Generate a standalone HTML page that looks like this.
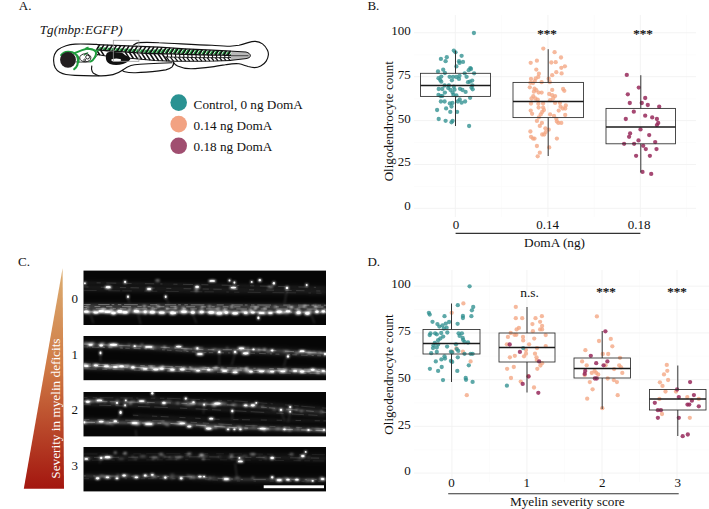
<!DOCTYPE html>
<html lang="en"><head><meta charset="utf-8"><title>Figure</title>
<style>html,body{margin:0;padding:0;background:#fff}svg{display:block}text{font-family:"Liberation Serif", "DejaVu Serif", serif;fill:#111}</style>
</head><body>
<svg width="709" height="509" viewBox="0 0 709 509">
<defs>
<linearGradient id="tri" x1="0" y1="0" x2="0" y2="1"><stop offset="0" stop-color="#dcae72"/><stop offset="0.45" stop-color="#cf7a45"/><stop offset="1" stop-color="#a3160f"/></linearGradient>
<filter id="b1" x="-20%" y="-50%" width="140%" height="200%"><feGaussianBlur stdDeviation="0.95"/></filter>
<filter id="b2" x="-20%" y="-50%" width="140%" height="200%"><feGaussianBlur stdDeviation="1.0"/></filter>
<filter id="b0" x="-20%" y="-50%" width="140%" height="200%"><feGaussianBlur stdDeviation="0.45"/></filter>
<filter id="b3" x="-5%" y="-300%" width="110%" height="700%"><feGaussianBlur stdDeviation="2.2"/></filter>
</defs>
<rect width="709" height="509" fill="#fff"/>
<text x="18.8" y="9.6" font-size="13" text-anchor="start" >A.</text>
<text x="367.4" y="9.6" font-size="13" text-anchor="start" >B.</text>
<text x="18.0" y="265.7" font-size="13" text-anchor="start" >C.</text>
<text x="367.4" y="265.7" font-size="13" text-anchor="start" >D.</text>
<text x="39.8" y="34.3" font-size="13.1" text-anchor="start" font-style="italic">Tg(mbp:EGFP)</text>
<g fill="none" stroke="#111" stroke-width="1.15" stroke-linecap="round" stroke-linejoin="round">
<path d="M97,44.4 C93,44.2 90,44.1 88.6,44.1 C84,44 79,43.9 75.1,44.1 C71.5,44.3 68.5,44.9 66,45.7 C62.5,46.8 59.8,48.1 57.9,49.7 C55,52.2 53.5,56 53.6,60.6 C53.7,63.5 54.2,66 55.2,67.8 C56.3,69.8 57.8,71.3 59.7,72.3 C61.7,73.4 63.7,74.1 66,74.5 C69,75 72,75.3 75,75.4 C81,75.7 87,75.8 93,75.8 C98,75.8 103,75.8 106,75.6 C109,75.4 111,75.1 113,74.6 C116.5,73.7 119.5,72.3 122,70.5 C125,68.4 128,66.5 131,65.5 C133.5,64.7 137,64.4 140,64.2 C146,63.8 153,63.5 159,63.3 C164,63.1 169,62.9 172,62.8"/>
<path d="M122.3,70.4 C123,71.2 124,71.6 124.8,71.8 C128,72.6 132,72.8 135.6,72.7 C143,72.5 151,71.8 159,70.9 C162,70.5 164.5,70.2 165.8,69.9 C168.5,69.2 170.8,68.2 172.1,66.9 C173.3,65.6 173.8,63.8 173.5,62.2"/>
<path d="M91.8,66 C91.3,68 91.5,70 92.2,71.4 C92.8,72.6 93.8,73.5 94.9,74.1 C96.2,74.9 97.6,75.4 99,75.7"/>
<path d="M133.6,45.0 C135,44 136.5,43 138.5,42.6 C145,42.2 152,42.3 159,42.8 C178,43.6 196,45 212,45.3 C218,45.7 224,46.2 230,46.2 C233,46.1 236,45.8 239,45.3 C242,44.6 245,43.6 248.1,42.6 C250.5,41.9 253,41.3 255.3,41.4 C258,41.6 260.5,42.5 262.5,43.9 C264.8,45.6 266.4,47.8 267.5,50.2 C268.2,51.7 268.5,53.2 268.4,54.8 C268.2,57 267.4,59.2 266.2,61.1 C264.9,63.2 263,64.8 260.7,66 C258.7,67 256.6,67.6 254.4,67.6 C252.2,67.5 250.1,67 248.1,66.5 C245,65.6 242,64.4 239,63.8 C234.5,63.2 230,64 225.5,64.7 C221,65.5 216.5,66.4 212,66.9 C205,67.8 198,68.6 191,68.7 C186,68.7 181,67.6 177.6,66 C175.6,65 174.2,63.6 173.5,62.2"/>
<path d="M75.8,61.9 C80,62.2 85,62.3 89.5,61.9 C91.5,61.4 93.6,59.8 94.9,57.9 C95.8,56.5 97,55.2 98.5,54.4" stroke-width="0.8"/>
</g>
<path d="M97.00,44.60 L140.00,46.30 L159.00,47.20 L185.00,48.80 L212.00,50.20 L231.00,51.10 L246.00,52.00 L249.00,53.20 L250.40,55.70 L249.00,57.60 L246.00,58.60 L231.00,60.40 L215.00,61.00 L200.00,61.20 L172.00,61.20 L155.00,60.60 L130.00,58.20 L106.00,56.00 L97.00,54.60 Z" fill="#fff" stroke="none"/>
<path d="M230.5,51.1 L246,52 C249,52.8 250.4,54.3 250.4,55.7 C250.4,57.2 249,58 246,58.6 L230.5,60.4 Z" fill="#b9b9b9"/>
<path d="M230.5,55.6 L248.5,55.7" stroke="#444" stroke-width="1.3" fill="none" stroke-opacity="0.8"/>
<path d="M97.00,46.94 L99.00,47.07 L101.00,47.21 L103.00,47.34 L105.00,47.47 L107.00,47.59 L109.00,47.70 L111.00,47.80 L113.00,47.90 L115.00,48.01 L117.00,48.11 L119.00,48.21 L121.00,48.32 L123.00,48.42 L125.00,48.52 L127.00,48.63 L129.00,48.73 L131.00,48.83 L133.00,48.94 L135.00,49.05 L137.00,49.15 L139.00,49.26 L141.00,49.37 L143.00,49.49 L145.00,49.60 L147.00,49.69 L149.00,49.77 L151.00,49.77 L153.00,49.67 L155.00,49.58 L157.00,49.46 L159.00,49.36 L161.00,49.28 L163.00,49.20 L165.00,49.13 L167.00,49.07 L169.00,49.01 L171.00,48.97 L173.00,48.93 L175.00,48.89 L177.00,49.00 L179.00,49.12 L181.00,49.24 L183.00,49.35 L185.00,49.47 L187.00,49.57 L189.00,49.67 L191.00,49.76 L193.00,49.86 L195.00,49.96 L197.00,50.06 L199.00,50.16 L201.00,50.25 L203.00,50.35 L205.00,50.45 L207.00,50.54 L209.00,50.64 L211.00,50.74 L213.00,50.83 L215.00,50.92 L217.00,51.00 L219.00,51.09 L221.00,51.17 L223.00,51.26 L225.00,51.35 L227.00,51.43 L229.00,51.52 L231.00,51.60 L231.00,54.78 L229.00,54.77 L227.00,54.75 L225.00,54.73 L223.00,54.71 L221.00,54.69 L219.00,54.67 L217.00,54.66 L215.00,54.64 L213.00,54.60 L211.00,54.56 L209.00,54.51 L207.00,54.47 L205.00,54.42 L203.00,54.38 L201.00,54.33 L199.00,54.28 L197.00,54.22 L195.00,54.17 L193.00,54.11 L191.00,54.05 L189.00,53.99 L187.00,53.94 L185.00,53.88 L183.00,53.81 L181.00,53.74 L179.00,53.68 L177.00,53.61 L175.00,53.54 L173.00,53.47 L171.00,53.39 L169.00,53.33 L167.00,53.30 L165.00,53.28 L163.00,53.26 L161.00,53.23 L159.00,53.21 L157.00,53.20 L155.00,53.20 L153.00,53.13 L151.00,53.06 L149.00,52.99 L147.00,52.92 L145.00,52.85 L143.00,52.71 L141.00,52.56 L139.00,52.42 L137.00,52.28 L135.00,52.14 L133.00,52.00 L131.00,51.87 L129.00,51.73 L127.00,51.60 L125.00,51.47 L123.00,51.33 L121.00,51.20 L119.00,51.07 L117.00,50.93 L115.00,50.80 L113.00,50.67 L111.00,50.53 L109.00,50.40 L107.00,50.27 L105.00,50.10 L103.00,49.90 L101.00,49.70 L99.00,49.50 L97.00,49.30 Z" fill="#1f9c3d"/>
<g fill="none" stroke-linecap="butt">
<path d="M97.95,49.80 L101.17,44.71 M102.05,50.16 L105.41,44.88 M106.15,50.57 L109.66,45.04 M110.25,50.89 L113.86,45.21 M114.35,51.16 L118.03,45.37 M118.45,51.43 L122.20,45.54 M122.55,51.71 L126.36,45.70 M126.65,51.98 L130.53,45.87 M130.75,52.25 L134.70,46.03 M134.85,52.53 L138.88,46.20 M138.95,52.81 L143.05,46.38 M143.05,53.10 L147.22,46.57 M147.15,53.38 L151.37,46.77 M151.25,53.52 L155.44,46.96 M155.35,53.66 L159.50,47.16 M159.45,53.71 L163.51,47.39" stroke="#fff" stroke-width="0.65"/>
<path d="M163.55,53.75 L167.49,47.63 M167.65,53.79 L171.46,47.88 M171.75,53.86 L175.45,48.12 M175.85,54.02 L179.49,48.37 M179.95,54.16 L183.52,48.62 M184.05,54.30 L187.55,48.86 M188.15,54.43 L191.59,49.07 M192.25,54.55 L195.63,49.28 M196.35,54.66 L199.67,49.49 M200.45,54.78 L203.71,49.69 M204.55,54.88 L207.74,49.90 M208.65,54.97 L211.76,50.11 M212.75,55.06 L215.79,50.31 M216.85,55.14 L219.81,50.50 M220.95,55.18 L223.82,50.69 M225.05,55.22 L227.82,50.88 M229.15,55.25 L231.82,51.07" stroke="#fff" stroke-width="0.95"/>
<path d="M96.50,49.80 L99.72,44.71 M100.60,50.16 L103.96,44.88 M104.70,50.57 L108.21,45.04 M108.80,50.89 L112.41,45.21 M112.90,51.16 L116.58,45.37 M117.00,51.43 L120.75,45.54 M121.10,51.71 L124.91,45.70 M125.20,51.98 L129.08,45.87 M129.30,52.25 L133.25,46.03 M133.40,52.53 L137.43,46.20 M137.50,52.81 L141.60,46.38 M141.60,53.10 L145.77,46.57 M145.70,53.38 L149.92,46.77 M149.80,53.52 L153.99,46.96 M153.90,53.66 L158.05,47.16 M158.00,53.71 L162.06,47.39 M162.10,53.75 L166.04,47.63 M166.20,53.79 L170.01,47.88 M170.30,53.86 L174.00,48.12 M174.40,54.02 L178.04,48.37 M178.50,54.16 L182.07,48.62 M182.60,54.30 L186.10,48.86 M186.70,54.43 L190.14,49.07 M190.80,54.55 L194.18,49.28 M194.90,54.66 L198.22,49.49 M199.00,54.78 L202.26,49.69 M203.10,54.88 L206.29,49.90 M207.20,54.97 L210.31,50.11 M211.30,55.06 L214.34,50.31 M215.40,55.14 L218.36,50.50 M219.50,55.18 L222.37,50.69 M223.60,55.22 L226.37,50.88 M227.70,55.25 L230.37,51.07" stroke="#111" stroke-width="1.55"/>
<path d="M96.50,49.80 L99.86,55.04 M100.60,50.16 L104.10,55.70 M125.20,51.98 L129.25,58.13 M129.30,52.25 L133.42,58.53 M133.40,52.53 L137.60,58.93 M137.50,52.81 L141.77,59.33 M141.60,53.10 L145.95,59.73 M145.70,53.38 L150.13,60.13 M149.80,53.52 L154.41,60.54 M153.90,53.66 L158.68,60.73 M158.00,53.71 L162.90,60.88 M162.10,53.75 L167.07,61.03" stroke="#111" stroke-width="1.55"/>
<path d="M167.20,53.79 L167.60,56.96 M171.30,53.86 L171.70,57.06 M175.40,54.02 L175.80,57.18 M179.50,54.16 L179.90,57.26 M183.60,54.30 L184.00,57.34 M187.70,54.43 L188.10,57.41 M191.80,54.55 L192.20,57.47 M195.90,54.66 L196.30,57.54 M200.00,54.78 L200.40,57.60 M204.10,54.88 L204.50,57.64 M208.20,54.97 L208.60,57.67 M212.30,55.06 L212.70,57.70 M216.40,55.14 L216.80,57.71 M220.50,55.18 L220.90,57.67 M224.60,55.22 L225.00,57.62 M228.70,55.25 L229.10,57.57" stroke="#111" stroke-width="1.15"/>
<path d="M166.20,56.96 L169.43,61.11 M170.30,57.06 L173.56,61.20 M174.40,57.18 L177.62,61.20 M178.50,57.26 L181.65,61.20 M182.60,57.34 L185.69,61.20 M186.70,57.41 L189.73,61.20 M190.80,57.47 L193.78,61.20 M194.90,57.54 L197.83,61.20 M199.00,57.60 L201.88,61.17 M203.10,57.64 L205.91,61.12 M207.20,57.67 L209.95,61.07 M211.30,57.70 L213.98,61.01 M215.40,57.71 L218.02,60.89 M219.50,57.67 L222.03,60.74 M223.60,57.62 L226.05,60.59 M227.70,57.57 L230.06,60.44" stroke="#111" stroke-width="1.25"/>
<path d="M97.00,44.60 L140.00,46.30 L159.00,47.20 L185.00,48.80 L212.00,50.20 L231.00,51.10" stroke="#111" stroke-width="1.3"/>
<path d="M97.00,49.80 L99.00,50.00 L101.00,50.20 L103.00,50.40 L105.00,50.60 L107.00,50.77 L109.00,50.90 L111.00,51.03 L113.00,51.17 L115.00,51.30 L117.00,51.43 L119.00,51.57 L121.00,51.70 L123.00,51.83 L125.00,51.97 L127.00,52.10 L129.00,52.23 L131.00,52.37 L133.00,52.50 L135.00,52.64 L137.00,52.78 L139.00,52.92 L141.00,53.06 L143.00,53.21 L145.00,53.35 L147.00,53.42 L149.00,53.49 L151.00,53.56 L153.00,53.63 L155.00,53.70 L157.00,53.70 L159.00,53.71 L161.00,53.73 L163.00,53.76 L165.00,53.78 L167.00,53.80 L169.00,53.83 L171.00,53.89 L173.00,53.97 L175.00,54.04 L177.00,54.11 L179.00,54.18 L181.00,54.24 L183.00,54.31 L185.00,54.38 L187.00,54.44 L189.00,54.49 L191.00,54.55 L193.00,54.61 L195.00,54.67 L197.00,54.72 L199.00,54.78 L201.00,54.83 L203.00,54.88 L205.00,54.92 L207.00,54.97 L209.00,55.01 L211.00,55.06 L213.00,55.10 L215.00,55.14 L217.00,55.16 L219.00,55.17 L221.00,55.19 L223.00,55.21 L225.00,55.23 L227.00,55.25 L229.00,55.27 L231.00,55.28" stroke="#111" stroke-width="1.3"/>
<path d="M165.00,56.94 L167.00,56.98 L169.00,57.03 L171.00,57.09 L173.00,57.15 L175.00,57.19 L177.00,57.23 L179.00,57.27 L181.00,57.30 L183.00,57.34 L185.00,57.38 L187.00,57.41 L189.00,57.44 L191.00,57.48 L193.00,57.51 L195.00,57.54 L197.00,57.57 L199.00,57.60 L201.00,57.63 L203.00,57.64 L205.00,57.65 L207.00,57.67 L209.00,57.68 L211.00,57.69 L213.00,57.71 L215.00,57.72 L217.00,57.69 L219.00,57.67 L221.00,57.65 L223.00,57.63 L225.00,57.60 L227.00,57.58 L229.00,57.56 L231.00,57.54" stroke="#111" stroke-width="0.85"/>
<path d="M97.00,54.60 L106.00,56.00 L130.00,58.20 L155.00,60.60 L172.00,61.20 L200.00,61.20 L215.00,61.00 L231.00,60.40" stroke="#111" stroke-width="1.05"/>
<path d="M230.5,51.1 L246,52 C249,52.8 250.4,54.3 250.4,55.7 C250.4,57.2 249,58 246,58.6 L230.5,60.4" stroke="#111" stroke-width="1.0"/>
</g>
<g fill="none" stroke="#1f9c3d" stroke-linecap="round" stroke-linejoin="round">
<path d="M61.2,55.2 C62.8,53.0 65.3,51.9 67.9,51.8 C70.6,51.7 73.2,52.3 75.1,53.6 C76.8,54.7 77.6,56.6 77.9,58.8 C78.2,61 78,63.1 77.3,65.1 C76.7,66.8 75.6,68.1 74.2,69.1" stroke-width="2.1"/>
<path d="M77.3,55.2 C78.8,57 79.3,59.6 78.8,62.4" stroke-width="1.3"/>
<path d="M75.1,52.9 C78.5,51.5 82,49.9 86.8,48.8 C90,48.6 93,49.2 94.9,50.6 C96.2,52 96.3,53.6 95.8,55.1 C95.2,56.9 94.2,58.4 93.1,59.7 C92.3,60.5 91.4,61.1 90.4,61.5" stroke-width="2.0"/>
<path d="M86.8,48.8 L91.5,49.6 M86,48.2 L88,47.3" stroke-width="1.3"/>
<path d="M84.2,55.2 C85.2,53.8 86.6,53.1 87.8,52.9" stroke-width="1.1"/>
<path d="M94.9,50.6 L98,50.5" stroke-width="1.8"/>
</g>
<circle cx="68" cy="59.8" r="7.9" fill="#231f20"/>
<ellipse cx="85.3" cy="57.8" rx="5.6" ry="4.0" fill="none" stroke="#111" stroke-width="0.9"/>
<circle cx="87.6" cy="57.1" r="1.9" fill="#fff" stroke="#111" stroke-width="0.9"/>
<circle cx="84.7" cy="60.0" r="1.0" fill="#fff" stroke="#111" stroke-width="0.8"/>
<path d="M105.8,57.0 C105.9,53.6 107.2,51.9 110.0,51.8 L121.5,52.4 C123.5,53.4 124.5,54.6 126,55.6 C128.5,56.9 130.6,58.4 130.3,59.3 C129.6,61.0 126.5,63.0 123,64.0 C118.5,65.2 113.5,65.2 110.0,64.0 C107.0,62.8 105.7,60 105.8,57.0 Z" fill="#111"/>
<ellipse cx="116.2" cy="60.0" rx="4.9" ry="1.55" fill="#fff"/>
<rect x="113.3" y="40.3" width="25.6" height="21.0" fill="none" stroke="#9a9a9a" stroke-width="0.8"/>
<circle cx="178.7" cy="102.6" r="8.3" fill="#2a9292"/>
<text x="193.6" y="108.6" font-size="13.2" text-anchor="start" >Control, 0 ng DomA</text>
<circle cx="178.7" cy="124.1" r="8.3" fill="#f2a282"/>
<text x="193.6" y="129.6" font-size="13.2" text-anchor="start" >0.14 ng DomA</text>
<circle cx="178.7" cy="145.8" r="8.3" fill="#a04e70"/>
<text x="193.6" y="150.7" font-size="13.2" text-anchor="start" >0.18 ng DomA</text>
<line x1="414" x2="696" y1="186.5" y2="186.5" stroke="#fafafa" stroke-width="0.7"/>
<line x1="414" x2="696" y1="142.6" y2="142.6" stroke="#fafafa" stroke-width="0.7"/>
<line x1="414" x2="696" y1="98.7" y2="98.7" stroke="#fafafa" stroke-width="0.7"/>
<line x1="414" x2="696" y1="54.8" y2="54.8" stroke="#fafafa" stroke-width="0.7"/>
<line x1="501.6" x2="501.6" y1="15" y2="217" stroke="#fafafa" stroke-width="0.7"/>
<line x1="594.2" x2="594.2" y1="15" y2="217" stroke="#fafafa" stroke-width="0.7"/>
<line x1="686.6" x2="686.6" y1="15" y2="217" stroke="#fafafa" stroke-width="0.7"/>
<line x1="414" x2="696" y1="208.4" y2="208.4" stroke="#f2f2f2" stroke-width="0.9"/>
<text x="410.8" y="210.3" font-size="13" text-anchor="end" >0</text>
<line x1="414" x2="696" y1="164.5" y2="164.5" stroke="#f2f2f2" stroke-width="0.9"/>
<text x="410.8" y="166.4" font-size="13" text-anchor="end" >25</text>
<line x1="414" x2="696" y1="120.6" y2="120.6" stroke="#f2f2f2" stroke-width="0.9"/>
<text x="410.8" y="122.5" font-size="13" text-anchor="end" >50</text>
<line x1="414" x2="696" y1="76.7" y2="76.7" stroke="#f2f2f2" stroke-width="0.9"/>
<text x="410.8" y="78.6" font-size="13" text-anchor="end" >75</text>
<line x1="414" x2="696" y1="32.8" y2="32.8" stroke="#f2f2f2" stroke-width="0.9"/>
<text x="410.8" y="34.7" font-size="13" text-anchor="end" >100</text>
<line x1="455.4" x2="455.4" y1="15" y2="217" stroke="#f2f2f2" stroke-width="0.9"/>
<line x1="547.9" x2="547.9" y1="15" y2="217" stroke="#f2f2f2" stroke-width="0.9"/>
<line x1="640.4" x2="640.4" y1="15" y2="217" stroke="#f2f2f2" stroke-width="0.9"/>
<text x="456.1" y="228.8" font-size="13" text-anchor="middle" >0</text>
<text x="547.6" y="228.8" font-size="13" text-anchor="middle" >0.14</text>
<text x="639.2" y="228.8" font-size="13" text-anchor="middle" >0.18</text>
<line x1="455.6" x2="640.4" y1="233.4" y2="233.4" stroke="#333" stroke-width="1.1"/>
<text x="554.6" y="247.0" font-size="13.3" text-anchor="middle" >DomA (ng)</text>
<text transform="translate(392.6,121.2) rotate(-90)" font-size="13.1" text-anchor="middle">Oligodendrocyte count</text>
<text x="547.1" y="37.6" font-size="13" text-anchor="middle" stroke="#111" stroke-width="0.25">***</text>
<text x="642.9" y="37.6" font-size="13" text-anchor="middle" stroke="#111" stroke-width="0.25">***</text>
<g fill="#2f8f8f" fill-opacity="0.78">
<circle cx="473.9" cy="33.0" r="2.15"/>
<circle cx="453.8" cy="50.6" r="2.15"/>
<circle cx="455.5" cy="52.3" r="2.15"/>
<circle cx="440.9" cy="58.9" r="2.15"/>
<circle cx="446.8" cy="57.2" r="2.15"/>
<circle cx="445.6" cy="61.2" r="2.15"/>
<circle cx="461.6" cy="55.8" r="2.15"/>
<circle cx="459.0" cy="61.2" r="2.15"/>
<circle cx="463.0" cy="61.9" r="2.15"/>
<circle cx="459.5" cy="62.9" r="2.15"/>
<circle cx="456.4" cy="66.4" r="2.15"/>
<circle cx="443.2" cy="69.7" r="2.15"/>
<circle cx="438.0" cy="71.4" r="2.15"/>
<circle cx="444.9" cy="73.0" r="2.15"/>
<circle cx="464.7" cy="73.3" r="2.15"/>
<circle cx="470.3" cy="68.1" r="2.15"/>
<circle cx="471.0" cy="69.0" r="2.15"/>
<circle cx="468.7" cy="70.2" r="2.15"/>
<circle cx="474.1" cy="73.3" r="2.15"/>
<circle cx="466.6" cy="76.8" r="2.15"/>
<circle cx="459.5" cy="75.8" r="2.15"/>
<circle cx="456.4" cy="77.0" r="2.15"/>
<circle cx="453.1" cy="76.8" r="2.15"/>
<circle cx="449.6" cy="76.8" r="2.15"/>
<circle cx="441.3" cy="76.6" r="2.15"/>
<circle cx="438.5" cy="78.2" r="2.15"/>
<circle cx="440.2" cy="80.1" r="2.15"/>
<circle cx="441.3" cy="81.7" r="2.15"/>
<circle cx="451.9" cy="80.3" r="2.15"/>
<circle cx="459.0" cy="78.9" r="2.15"/>
<circle cx="468.0" cy="82.2" r="2.15"/>
<circle cx="469.8" cy="81.7" r="2.15"/>
<circle cx="472.2" cy="80.6" r="2.15"/>
<circle cx="472.4" cy="85.3" r="2.15"/>
<circle cx="444.6" cy="85.5" r="2.15"/>
<circle cx="448.9" cy="85.5" r="2.15"/>
<circle cx="453.8" cy="86.7" r="2.15"/>
<circle cx="448.2" cy="88.1" r="2.15"/>
<circle cx="438.7" cy="89.0" r="2.15"/>
<circle cx="442.3" cy="89.0" r="2.15"/>
<circle cx="450.5" cy="90.0" r="2.15"/>
<circle cx="454.5" cy="89.7" r="2.15"/>
<circle cx="460.0" cy="88.8" r="2.15"/>
<circle cx="462.5" cy="90.0" r="2.15"/>
<circle cx="465.6" cy="91.9" r="2.15"/>
<circle cx="471.5" cy="87.6" r="2.15"/>
<circle cx="472.7" cy="89.3" r="2.15"/>
<circle cx="444.9" cy="92.6" r="2.15"/>
<circle cx="452.6" cy="92.6" r="2.15"/>
<circle cx="453.4" cy="94.9" r="2.15"/>
<circle cx="456.4" cy="95.4" r="2.15"/>
<circle cx="438.5" cy="94.9" r="2.15"/>
<circle cx="440.6" cy="96.1" r="2.15"/>
<circle cx="442.3" cy="95.9" r="2.15"/>
<circle cx="470.1" cy="97.8" r="2.15"/>
<circle cx="459.7" cy="99.4" r="2.15"/>
<circle cx="457.8" cy="101.5" r="2.15"/>
<circle cx="461.6" cy="102.7" r="2.15"/>
<circle cx="465.1" cy="101.5" r="2.15"/>
<circle cx="440.9" cy="101.5" r="2.15"/>
<circle cx="444.6" cy="101.5" r="2.15"/>
<circle cx="449.8" cy="103.4" r="2.15"/>
<circle cx="452.4" cy="102.9" r="2.15"/>
<circle cx="451.5" cy="106.5" r="2.15"/>
<circle cx="446.1" cy="108.4" r="2.15"/>
<circle cx="437.1" cy="110.0" r="2.15"/>
<circle cx="450.3" cy="111.9" r="2.15"/>
<circle cx="457.1" cy="111.9" r="2.15"/>
<circle cx="438.7" cy="119.0" r="2.15"/>
<circle cx="445.6" cy="120.8" r="2.15"/>
<circle cx="452.6" cy="120.8" r="2.15"/>
<circle cx="451.5" cy="122.3" r="2.15"/>
<circle cx="469.1" cy="126.0" r="2.15"/>
</g>
<g fill="#f4a582" fill-opacity="0.78">
<circle cx="543.3" cy="48.6" r="2.15"/>
<circle cx="554.6" cy="52.2" r="2.15"/>
<circle cx="561.0" cy="57.5" r="2.15"/>
<circle cx="536.9" cy="60.7" r="2.15"/>
<circle cx="530.7" cy="62.8" r="2.15"/>
<circle cx="551.3" cy="62.5" r="2.15"/>
<circle cx="555.7" cy="62.2" r="2.15"/>
<circle cx="564.9" cy="66.3" r="2.15"/>
<circle cx="561.3" cy="67.8" r="2.15"/>
<circle cx="536.3" cy="69.6" r="2.15"/>
<circle cx="556.3" cy="72.2" r="2.15"/>
<circle cx="561.6" cy="73.4" r="2.15"/>
<circle cx="538.9" cy="73.7" r="2.15"/>
<circle cx="552.2" cy="75.2" r="2.15"/>
<circle cx="531.0" cy="79.0" r="2.15"/>
<circle cx="535.7" cy="78.4" r="2.15"/>
<circle cx="538.3" cy="76.9" r="2.15"/>
<circle cx="548.7" cy="78.7" r="2.15"/>
<circle cx="534.8" cy="81.1" r="2.15"/>
<circle cx="530.4" cy="82.8" r="2.15"/>
<circle cx="533.0" cy="83.1" r="2.15"/>
<circle cx="541.6" cy="82.2" r="2.15"/>
<circle cx="549.8" cy="82.2" r="2.15"/>
<circle cx="529.8" cy="87.3" r="2.15"/>
<circle cx="534.5" cy="88.7" r="2.15"/>
<circle cx="536.3" cy="90.2" r="2.15"/>
<circle cx="552.2" cy="89.9" r="2.15"/>
<circle cx="563.1" cy="89.0" r="2.15"/>
<circle cx="564.3" cy="90.8" r="2.15"/>
<circle cx="533.9" cy="91.7" r="2.15"/>
<circle cx="538.6" cy="92.6" r="2.15"/>
<circle cx="541.6" cy="92.6" r="2.15"/>
<circle cx="549.2" cy="94.0" r="2.15"/>
<circle cx="552.2" cy="95.2" r="2.15"/>
<circle cx="555.1" cy="96.1" r="2.15"/>
<circle cx="533.3" cy="96.1" r="2.15"/>
<circle cx="531.5" cy="98.5" r="2.15"/>
<circle cx="535.4" cy="98.5" r="2.15"/>
<circle cx="537.7" cy="99.6" r="2.15"/>
<circle cx="553.1" cy="98.5" r="2.15"/>
<circle cx="550.1" cy="100.2" r="2.15"/>
<circle cx="531.0" cy="103.5" r="2.15"/>
<circle cx="538.3" cy="103.8" r="2.15"/>
<circle cx="543.1" cy="103.5" r="2.15"/>
<circle cx="555.1" cy="102.9" r="2.15"/>
<circle cx="559.9" cy="102.9" r="2.15"/>
<circle cx="565.8" cy="105.5" r="2.15"/>
<circle cx="560.5" cy="106.7" r="2.15"/>
<circle cx="562.8" cy="108.5" r="2.15"/>
<circle cx="565.2" cy="108.5" r="2.15"/>
<circle cx="538.6" cy="107.6" r="2.15"/>
<circle cx="543.1" cy="107.6" r="2.15"/>
<circle cx="543.9" cy="110.0" r="2.15"/>
<circle cx="530.7" cy="110.6" r="2.15"/>
<circle cx="558.7" cy="110.6" r="2.15"/>
<circle cx="532.1" cy="113.8" r="2.15"/>
<circle cx="542.2" cy="112.0" r="2.15"/>
<circle cx="540.7" cy="114.4" r="2.15"/>
<circle cx="565.2" cy="115.0" r="2.15"/>
<circle cx="550.1" cy="114.4" r="2.15"/>
<circle cx="554.0" cy="115.9" r="2.15"/>
<circle cx="538.9" cy="117.3" r="2.15"/>
<circle cx="536.9" cy="120.9" r="2.15"/>
<circle cx="556.3" cy="118.8" r="2.15"/>
<circle cx="556.9" cy="121.5" r="2.15"/>
<circle cx="558.4" cy="122.9" r="2.15"/>
<circle cx="561.3" cy="122.9" r="2.15"/>
<circle cx="541.9" cy="122.9" r="2.15"/>
<circle cx="539.8" cy="125.9" r="2.15"/>
<circle cx="545.4" cy="128.3" r="2.15"/>
<circle cx="548.7" cy="129.7" r="2.15"/>
<circle cx="530.4" cy="131.5" r="2.15"/>
<circle cx="545.7" cy="132.1" r="2.15"/>
<circle cx="542.2" cy="134.5" r="2.15"/>
<circle cx="544.2" cy="134.5" r="2.15"/>
<circle cx="531.0" cy="136.8" r="2.15"/>
<circle cx="533.0" cy="138.6" r="2.15"/>
<circle cx="534.5" cy="138.6" r="2.15"/>
<circle cx="556.9" cy="138.6" r="2.15"/>
<circle cx="536.9" cy="146.0" r="2.15"/>
<circle cx="549.2" cy="147.4" r="2.15"/>
<circle cx="539.8" cy="152.7" r="2.15"/>
<circle cx="537.7" cy="156.3" r="2.15"/>
</g>
<g fill="#96295a" fill-opacity="0.85">
<circle cx="626.8" cy="74.9" r="2.15"/>
<circle cx="638.8" cy="87.6" r="2.15"/>
<circle cx="627.8" cy="94.3" r="2.15"/>
<circle cx="645.2" cy="98.0" r="2.15"/>
<circle cx="629.8" cy="103.0" r="2.15"/>
<circle cx="641.8" cy="103.0" r="2.15"/>
<circle cx="647.8" cy="105.0" r="2.15"/>
<circle cx="659.2" cy="106.7" r="2.15"/>
<circle cx="633.8" cy="111.7" r="2.15"/>
<circle cx="645.2" cy="115.7" r="2.15"/>
<circle cx="652.2" cy="117.4" r="2.15"/>
<circle cx="625.8" cy="119.0" r="2.15"/>
<circle cx="656.9" cy="119.0" r="2.15"/>
<circle cx="658.2" cy="123.0" r="2.15"/>
<circle cx="656.9" cy="125.1" r="2.15"/>
<circle cx="640.5" cy="129.4" r="2.15"/>
<circle cx="630.1" cy="133.4" r="2.15"/>
<circle cx="649.2" cy="135.1" r="2.15"/>
<circle cx="629.1" cy="136.8" r="2.15"/>
<circle cx="638.5" cy="140.4" r="2.15"/>
<circle cx="655.2" cy="142.1" r="2.15"/>
<circle cx="624.1" cy="143.8" r="2.15"/>
<circle cx="634.1" cy="143.8" r="2.15"/>
<circle cx="643.2" cy="145.8" r="2.15"/>
<circle cx="645.8" cy="149.1" r="2.15"/>
<circle cx="656.5" cy="149.1" r="2.15"/>
<circle cx="636.1" cy="155.8" r="2.15"/>
<circle cx="649.9" cy="155.8" r="2.15"/>
<circle cx="642.5" cy="171.9" r="2.15"/>
<circle cx="651.2" cy="173.9" r="2.15"/>
</g>
<line x1="455.5" y1="50.6" x2="455.5" y2="73.3" stroke="#333" stroke-width="1"/>
<line x1="455.5" y1="96.4" x2="455.5" y2="126.0" stroke="#333" stroke-width="1"/>
<rect x="420.5" y="73.3" width="70.0" height="23.1" fill="none" stroke="#2b2b2b" stroke-width="0.85"/>
<line x1="420.5" y1="85.4" x2="490.5" y2="85.4" stroke="#1a1a1a" stroke-width="1.5"/>
<line x1="548.2" y1="49.2" x2="548.2" y2="82.4" stroke="#333" stroke-width="1"/>
<line x1="548.2" y1="117.6" x2="548.2" y2="156.0" stroke="#333" stroke-width="1"/>
<rect x="513.0" y="82.4" width="70.5" height="35.2" fill="none" stroke="#2b2b2b" stroke-width="0.85"/>
<line x1="513.0" y1="101.6" x2="583.5" y2="101.6" stroke="#1a1a1a" stroke-width="1.5"/>
<line x1="640.8" y1="75.2" x2="640.8" y2="108.4" stroke="#333" stroke-width="1"/>
<line x1="640.8" y1="143.8" x2="640.8" y2="172.5" stroke="#333" stroke-width="1"/>
<rect x="606.0" y="108.4" width="69.5" height="35.4" fill="none" stroke="#2b2b2b" stroke-width="0.85"/>
<line x1="606.0" y1="127.0" x2="675.5" y2="127.0" stroke="#1a1a1a" stroke-width="1.5"/>
<line x1="414" x2="709" y1="449.7" y2="449.7" stroke="#fafafa" stroke-width="0.7"/>
<line x1="414" x2="709" y1="403.0" y2="403.0" stroke="#fafafa" stroke-width="0.7"/>
<line x1="414" x2="709" y1="356.3" y2="356.3" stroke="#fafafa" stroke-width="0.7"/>
<line x1="414" x2="709" y1="309.6" y2="309.6" stroke="#fafafa" stroke-width="0.7"/>
<line x1="489.4" x2="489.4" y1="270" y2="482" stroke="#fafafa" stroke-width="0.7"/>
<line x1="564.4" x2="564.4" y1="270" y2="482" stroke="#fafafa" stroke-width="0.7"/>
<line x1="639.5" x2="639.5" y1="270" y2="482" stroke="#fafafa" stroke-width="0.7"/>
<line x1="414" x2="709" y1="473.1" y2="473.1" stroke="#f2f2f2" stroke-width="0.9"/>
<text x="410.8" y="475.3" font-size="13" text-anchor="end" >0</text>
<line x1="414" x2="709" y1="426.4" y2="426.4" stroke="#f2f2f2" stroke-width="0.9"/>
<text x="410.8" y="428.6" font-size="13" text-anchor="end" >25</text>
<line x1="414" x2="709" y1="379.7" y2="379.7" stroke="#f2f2f2" stroke-width="0.9"/>
<text x="410.8" y="381.9" font-size="13" text-anchor="end" >50</text>
<line x1="414" x2="709" y1="332.9" y2="332.9" stroke="#f2f2f2" stroke-width="0.9"/>
<text x="410.8" y="335.1" font-size="13" text-anchor="end" >75</text>
<line x1="414" x2="709" y1="286.2" y2="286.2" stroke="#f2f2f2" stroke-width="0.9"/>
<text x="410.8" y="288.4" font-size="13" text-anchor="end" >100</text>
<line x1="451.9" x2="451.9" y1="270" y2="482" stroke="#f2f2f2" stroke-width="0.9"/>
<line x1="526.9" x2="526.9" y1="270" y2="482" stroke="#f2f2f2" stroke-width="0.9"/>
<line x1="602.0" x2="602.0" y1="270" y2="482" stroke="#f2f2f2" stroke-width="0.9"/>
<line x1="677.0" x2="677.0" y1="270" y2="482" stroke="#f2f2f2" stroke-width="0.9"/>
<text x="451.6" y="486.9" font-size="13" text-anchor="middle" >0</text>
<text x="526.8" y="486.9" font-size="13" text-anchor="middle" >1</text>
<text x="602.3" y="486.9" font-size="13" text-anchor="middle" >2</text>
<text x="677.7" y="486.9" font-size="13" text-anchor="middle" >3</text>
<line x1="448.2" x2="678.7" y1="493.7" y2="493.7" stroke="#333" stroke-width="1.1"/>
<text x="567.3" y="506.2" font-size="13.25" text-anchor="middle" >Myelin severity score</text>
<text transform="translate(392.6,374.5) rotate(-90)" font-size="13.1" text-anchor="middle">Oligodendrocyte count</text>
<text x="529.6" y="297.3" font-size="13.5" text-anchor="middle" >n.s.</text>
<text x="606.1" y="296.3" font-size="13" text-anchor="middle" stroke="#111" stroke-width="0.25">***</text>
<text x="676.9" y="296.3" font-size="13" text-anchor="middle" stroke="#111" stroke-width="0.25">***</text>
<g fill="#f4a582" fill-opacity="0.78">
<circle cx="463.4" cy="303.4" r="2.15"/>
<circle cx="451.7" cy="312.8" r="2.15"/>
<circle cx="456.3" cy="348.4" r="2.15"/>
<circle cx="462.9" cy="351.7" r="2.15"/>
<circle cx="452.2" cy="351.7" r="2.15"/>
<circle cx="470.6" cy="361.4" r="2.15"/>
<circle cx="466.8" cy="395.2" r="2.15"/>
</g>
<g fill="#2f8f8f" fill-opacity="0.78">
<circle cx="469.6" cy="286.3" r="2.15"/>
<circle cx="457.8" cy="305.2" r="2.15"/>
<circle cx="473.2" cy="307.0" r="2.15"/>
<circle cx="471.9" cy="310.3" r="2.15"/>
<circle cx="428.9" cy="312.8" r="2.15"/>
<circle cx="429.7" cy="314.6" r="2.15"/>
<circle cx="444.5" cy="316.2" r="2.15"/>
<circle cx="462.9" cy="315.9" r="2.15"/>
<circle cx="471.4" cy="316.2" r="2.15"/>
<circle cx="462.9" cy="318.0" r="2.15"/>
<circle cx="432.5" cy="321.8" r="2.15"/>
<circle cx="449.1" cy="322.0" r="2.15"/>
<circle cx="445.8" cy="323.6" r="2.15"/>
<circle cx="457.6" cy="323.8" r="2.15"/>
<circle cx="437.4" cy="324.1" r="2.15"/>
<circle cx="442.5" cy="325.4" r="2.15"/>
<circle cx="439.4" cy="326.6" r="2.15"/>
<circle cx="446.6" cy="327.7" r="2.15"/>
<circle cx="443.8" cy="328.7" r="2.15"/>
<circle cx="430.5" cy="333.3" r="2.15"/>
<circle cx="429.7" cy="335.1" r="2.15"/>
<circle cx="435.1" cy="333.3" r="2.15"/>
<circle cx="436.8" cy="334.3" r="2.15"/>
<circle cx="441.2" cy="333.0" r="2.15"/>
<circle cx="447.3" cy="332.5" r="2.15"/>
<circle cx="458.6" cy="333.3" r="2.15"/>
<circle cx="461.9" cy="333.3" r="2.15"/>
<circle cx="459.6" cy="335.9" r="2.15"/>
<circle cx="443.2" cy="336.6" r="2.15"/>
<circle cx="440.4" cy="338.4" r="2.15"/>
<circle cx="462.7" cy="337.9" r="2.15"/>
<circle cx="438.1" cy="340.2" r="2.15"/>
<circle cx="463.2" cy="339.9" r="2.15"/>
<circle cx="464.5" cy="342.0" r="2.15"/>
<circle cx="468.0" cy="342.5" r="2.15"/>
<circle cx="434.8" cy="343.0" r="2.15"/>
<circle cx="433.5" cy="345.3" r="2.15"/>
<circle cx="438.1" cy="344.5" r="2.15"/>
<circle cx="456.0" cy="344.3" r="2.15"/>
<circle cx="447.1" cy="346.6" r="2.15"/>
<circle cx="433.0" cy="348.1" r="2.15"/>
<circle cx="436.8" cy="347.6" r="2.15"/>
<circle cx="456.8" cy="349.1" r="2.15"/>
<circle cx="458.3" cy="350.9" r="2.15"/>
<circle cx="436.8" cy="352.0" r="2.15"/>
<circle cx="431.2" cy="353.2" r="2.15"/>
<circle cx="464.5" cy="353.8" r="2.15"/>
<circle cx="470.6" cy="353.8" r="2.15"/>
<circle cx="472.6" cy="353.8" r="2.15"/>
<circle cx="444.5" cy="356.3" r="2.15"/>
<circle cx="450.9" cy="351.7" r="2.15"/>
<circle cx="452.2" cy="352.5" r="2.15"/>
<circle cx="457.8" cy="357.3" r="2.15"/>
<circle cx="441.4" cy="359.4" r="2.15"/>
<circle cx="445.0" cy="358.6" r="2.15"/>
<circle cx="435.8" cy="361.4" r="2.15"/>
<circle cx="450.9" cy="360.9" r="2.15"/>
<circle cx="452.2" cy="361.9" r="2.15"/>
<circle cx="468.8" cy="365.3" r="2.15"/>
<circle cx="441.7" cy="367.0" r="2.15"/>
<circle cx="429.9" cy="368.8" r="2.15"/>
<circle cx="438.1" cy="370.9" r="2.15"/>
<circle cx="457.3" cy="370.9" r="2.15"/>
<circle cx="465.7" cy="378.0" r="2.15"/>
<circle cx="466.0" cy="379.8" r="2.15"/>
<circle cx="443.0" cy="380.1" r="2.15"/>
<circle cx="472.6" cy="381.9" r="2.15"/>
</g>
<g fill="#f4a582" fill-opacity="0.78">
<circle cx="515.8" cy="306.9" r="2.15"/>
<circle cx="541.9" cy="316.2" r="2.15"/>
<circle cx="515.8" cy="318.2" r="2.15"/>
<circle cx="522.2" cy="318.2" r="2.15"/>
<circle cx="535.5" cy="318.2" r="2.15"/>
<circle cx="540.1" cy="321.8" r="2.15"/>
<circle cx="532.4" cy="324.1" r="2.15"/>
<circle cx="542.1" cy="325.9" r="2.15"/>
<circle cx="518.9" cy="327.9" r="2.15"/>
<circle cx="516.6" cy="329.4" r="2.15"/>
<circle cx="540.1" cy="329.4" r="2.15"/>
<circle cx="542.1" cy="329.4" r="2.15"/>
<circle cx="532.9" cy="331.2" r="2.15"/>
<circle cx="510.7" cy="333.0" r="2.15"/>
<circle cx="514.5" cy="334.8" r="2.15"/>
<circle cx="516.3" cy="334.8" r="2.15"/>
<circle cx="507.9" cy="336.9" r="2.15"/>
<circle cx="545.7" cy="335.1" r="2.15"/>
<circle cx="523.0" cy="336.9" r="2.15"/>
<circle cx="534.2" cy="338.6" r="2.15"/>
<circle cx="523.2" cy="340.4" r="2.15"/>
<circle cx="506.9" cy="344.3" r="2.15"/>
<circle cx="529.1" cy="344.3" r="2.15"/>
<circle cx="545.7" cy="346.1" r="2.15"/>
<circle cx="537.0" cy="348.1" r="2.15"/>
<circle cx="526.0" cy="350.1" r="2.15"/>
<circle cx="535.0" cy="353.7" r="2.15"/>
<circle cx="514.8" cy="355.8" r="2.15"/>
<circle cx="526.0" cy="353.7" r="2.15"/>
<circle cx="509.9" cy="357.3" r="2.15"/>
<circle cx="524.0" cy="356.3" r="2.15"/>
<circle cx="536.5" cy="357.3" r="2.15"/>
<circle cx="536.8" cy="360.1" r="2.15"/>
<circle cx="542.1" cy="363.2" r="2.15"/>
<circle cx="540.4" cy="365.5" r="2.15"/>
<circle cx="513.8" cy="367.0" r="2.15"/>
<circle cx="507.1" cy="368.8" r="2.15"/>
<circle cx="537.3" cy="368.8" r="2.15"/>
<circle cx="528.3" cy="376.2" r="2.15"/>
<circle cx="511.0" cy="378.0" r="2.15"/>
<circle cx="520.7" cy="381.6" r="2.15"/>
<circle cx="534.0" cy="387.5" r="2.15"/>
</g>
<g fill="#2f8f8f" fill-opacity="0.78">
<circle cx="523.2" cy="348.1" r="2.15"/>
<circle cx="506.9" cy="385.7" r="2.15"/>
</g>
<g fill="#96295a" fill-opacity="0.85">
<circle cx="509.7" cy="344.5" r="2.15"/>
<circle cx="519.9" cy="351.9" r="2.15"/>
<circle cx="539.1" cy="361.4" r="2.15"/>
<circle cx="528.6" cy="376.5" r="2.15"/>
<circle cx="522.7" cy="383.9" r="2.15"/>
<circle cx="538.3" cy="392.8" r="2.15"/>
</g>
<g fill="#f4a582" fill-opacity="0.78">
<circle cx="596.9" cy="316.4" r="2.15"/>
<circle cx="610.8" cy="338.9" r="2.15"/>
<circle cx="599.0" cy="341.0" r="2.15"/>
<circle cx="612.3" cy="346.3" r="2.15"/>
<circle cx="585.4" cy="350.2" r="2.15"/>
<circle cx="602.8" cy="354.0" r="2.15"/>
<circle cx="608.2" cy="354.0" r="2.15"/>
<circle cx="620.0" cy="357.8" r="2.15"/>
<circle cx="582.1" cy="361.4" r="2.15"/>
<circle cx="586.7" cy="365.3" r="2.15"/>
<circle cx="605.6" cy="365.3" r="2.15"/>
<circle cx="619.2" cy="365.3" r="2.15"/>
<circle cx="621.0" cy="367.3" r="2.15"/>
<circle cx="614.1" cy="369.1" r="2.15"/>
<circle cx="594.6" cy="370.9" r="2.15"/>
<circle cx="591.8" cy="372.9" r="2.15"/>
<circle cx="596.2" cy="372.9" r="2.15"/>
<circle cx="622.3" cy="372.9" r="2.15"/>
<circle cx="584.7" cy="375.0" r="2.15"/>
<circle cx="598.2" cy="374.5" r="2.15"/>
<circle cx="607.7" cy="378.5" r="2.15"/>
<circle cx="613.8" cy="380.1" r="2.15"/>
<circle cx="589.8" cy="382.1" r="2.15"/>
<circle cx="616.9" cy="382.1" r="2.15"/>
<circle cx="592.6" cy="389.3" r="2.15"/>
<circle cx="617.7" cy="395.2" r="2.15"/>
<circle cx="587.2" cy="398.7" r="2.15"/>
<circle cx="602.3" cy="408.2" r="2.15"/>
</g>
<g fill="#96295a" fill-opacity="0.85">
<circle cx="605.4" cy="331.3" r="2.15"/>
<circle cx="590.8" cy="355.8" r="2.15"/>
<circle cx="607.4" cy="361.4" r="2.15"/>
<circle cx="596.2" cy="363.2" r="2.15"/>
<circle cx="603.6" cy="365.3" r="2.15"/>
<circle cx="585.2" cy="370.9" r="2.15"/>
<circle cx="584.7" cy="373.9" r="2.15"/>
<circle cx="594.9" cy="378.5" r="2.15"/>
<circle cx="596.7" cy="378.5" r="2.15"/>
</g>
<g fill="#f4a582" fill-opacity="0.78">
<circle cx="666.8" cy="364.9" r="2.15"/>
<circle cx="667.3" cy="370.8" r="2.15"/>
<circle cx="664.0" cy="374.4" r="2.15"/>
<circle cx="668.1" cy="380.0" r="2.15"/>
<circle cx="659.9" cy="382.3" r="2.15"/>
<circle cx="662.5" cy="385.9" r="2.15"/>
<circle cx="665.5" cy="391.5" r="2.15"/>
<circle cx="676.0" cy="391.5" r="2.15"/>
<circle cx="687.3" cy="397.1" r="2.15"/>
<circle cx="659.4" cy="398.9" r="2.15"/>
<circle cx="698.8" cy="398.9" r="2.15"/>
<circle cx="662.0" cy="414.0" r="2.15"/>
<circle cx="689.8" cy="417.8" r="2.15"/>
</g>
<g fill="#96295a" fill-opacity="0.85">
<circle cx="690.1" cy="382.1" r="2.15"/>
<circle cx="677.1" cy="389.5" r="2.15"/>
<circle cx="693.9" cy="395.1" r="2.15"/>
<circle cx="678.8" cy="397.1" r="2.15"/>
<circle cx="691.9" cy="400.7" r="2.15"/>
<circle cx="654.8" cy="402.8" r="2.15"/>
<circle cx="687.5" cy="404.6" r="2.15"/>
<circle cx="689.3" cy="404.6" r="2.15"/>
<circle cx="698.8" cy="406.3" r="2.15"/>
<circle cx="657.9" cy="410.2" r="2.15"/>
<circle cx="660.9" cy="410.2" r="2.15"/>
<circle cx="657.9" cy="417.8" r="2.15"/>
<circle cx="678.8" cy="417.8" r="2.15"/>
<circle cx="687.8" cy="434.5" r="2.15"/>
<circle cx="682.7" cy="436.2" r="2.15"/>
</g>
<line x1="451.5" y1="303.5" x2="451.5" y2="329.5" stroke="#333" stroke-width="1"/>
<line x1="451.5" y1="354.0" x2="451.5" y2="382.0" stroke="#333" stroke-width="1"/>
<rect x="423.0" y="329.5" width="57.0" height="24.5" fill="none" stroke="#2b2b2b" stroke-width="0.85"/>
<line x1="423.0" y1="343.5" x2="480.0" y2="343.5" stroke="#1a1a1a" stroke-width="1.5"/>
<line x1="527.0" y1="307.0" x2="527.0" y2="333.0" stroke="#333" stroke-width="1"/>
<line x1="527.0" y1="362.0" x2="527.0" y2="392.5" stroke="#333" stroke-width="1"/>
<rect x="499.0" y="333.0" width="56.0" height="29.0" fill="none" stroke="#2b2b2b" stroke-width="0.85"/>
<line x1="499.0" y1="347.5" x2="555.0" y2="347.5" stroke="#1a1a1a" stroke-width="1.5"/>
<line x1="602.2" y1="331.0" x2="602.2" y2="358.0" stroke="#333" stroke-width="1"/>
<line x1="602.2" y1="378.0" x2="602.2" y2="409.0" stroke="#333" stroke-width="1"/>
<rect x="574.0" y="358.0" width="56.5" height="20.0" fill="none" stroke="#2b2b2b" stroke-width="0.85"/>
<line x1="574.0" y1="368.5" x2="630.5" y2="368.5" stroke="#1a1a1a" stroke-width="1.5"/>
<line x1="677.8" y1="365.5" x2="677.8" y2="389.5" stroke="#333" stroke-width="1"/>
<line x1="677.8" y1="410.0" x2="677.8" y2="436.0" stroke="#333" stroke-width="1"/>
<rect x="649.5" y="389.5" width="56.5" height="20.5" fill="none" stroke="#2b2b2b" stroke-width="0.85"/>
<line x1="649.5" y1="399.0" x2="706.0" y2="399.0" stroke="#1a1a1a" stroke-width="1.5"/>
<polygon points="62.6,268.2 64,488.7 23.8,488.7" fill="url(#tri)"/>
<text transform="translate(59.7,408.6) rotate(-90)" font-size="13.25" text-anchor="middle" style="fill:#fff">Severity in myelin deficits</text>
<text x="74.8" y="303.3" font-size="13" text-anchor="middle" >0</text>
<text x="74.8" y="359.3" font-size="13" text-anchor="middle" >1</text>
<text x="74.8" y="414.3" font-size="13" text-anchor="middle" >2</text>
<text x="74.8" y="470.3" font-size="13" text-anchor="middle" >3</text>
<defs>
<clipPath id="cs0"><rect x="83.5" y="270.6" width="242.5" height="54.4"/></clipPath>
<clipPath id="cs1"><rect x="83.5" y="336.0" width="242.5" height="44.2"/></clipPath>
<clipPath id="cs2"><rect x="83.5" y="392.0" width="242.5" height="44.4"/></clipPath>
<clipPath id="cs3"><rect x="83.5" y="447.0" width="242.5" height="44.4"/></clipPath>
</defs>
<rect x="83.5" y="270.6" width="242.5" height="54.4" fill="#060606"/>
<g clip-path="url(#cs0)">
<g filter="url(#b3)" fill="none" stroke="#fff">
<path d="M83.5,282.6 L203.4,284.7 L326.1,287.6" stroke-width="3" stroke-opacity="0.05"/>
<path d="M83.5,286.9 L203.4,289.0 L326.1,291.1" stroke-width="3" stroke-opacity="0.05"/>
<path d="M83.5,290.4 L203.4,291.8 L326.1,293.2" stroke-width="3" stroke-opacity="0.05"/>
<path d="M83.5,304.5 L326.1,305.2" stroke-width="3" stroke-opacity="0.05"/>
<path d="M83.5,306.6 L326.1,307.0" stroke-width="3" stroke-opacity="0.05"/>
<path d="M83.5,308.7 L326.1,309.1" stroke-width="3" stroke-opacity="0.05"/>
<path d="M83.5,311.9 L326.1,312.2" stroke-width="5" stroke-opacity="0.1"/>
</g>
<g filter="url(#b2)" fill="none" stroke="#fff">
<path d="M83.5,282.6 L203.4,284.7 L326.1,287.6" stroke-width="0.6" stroke-opacity="0.17600000000000002"/>
<path d="M83.5,286.9 L203.4,289.0 L326.1,291.1" stroke-width="0.6" stroke-opacity="0.17600000000000002"/>
<path d="M83.5,290.4 L203.4,291.8 L326.1,293.2" stroke-width="0.5" stroke-opacity="0.12"/>
<path d="M83.5,304.5 L326.1,305.2" stroke-width="0.7" stroke-opacity="0.4"/>
<path d="M83.5,306.6 L326.1,307.0" stroke-width="0.7" stroke-opacity="0.44000000000000006"/>
<path d="M83.5,308.7 L326.1,309.1" stroke-width="0.7" stroke-opacity="0.4"/>
<path d="M83.5,311.9 L326.1,312.2" stroke-width="1.6" stroke-opacity="0.4"/>
<path d="M165.7,298.1 L168.9,303.8" stroke-width="0.7" stroke-opacity="0.3"/>
<path d="M128.0,298.1 L129.4,303.1" stroke-width="0.7" stroke-opacity="0.3"/>
<path d="M287.0,289.7 L284.5,303.8" stroke-width="0.7" stroke-opacity="0.3"/>
<path d="M90.6,314.4 L93.4,323.2" stroke-width="0.7" stroke-opacity="0.3"/>
<path d="M138.2,314.4 L140.6,324.2" stroke-width="0.7" stroke-opacity="0.3"/>
<path d="M192.8,314.4 L196.4,323.2" stroke-width="0.7" stroke-opacity="0.3"/>
<path d="M311.0,314.4 L314.5,323.2" stroke-width="0.7" stroke-opacity="0.3"/>
<path d="M258.4,312.6 L258.4,317.2" stroke-width="0.7" stroke-opacity="0.3"/>
</g>
<g filter="url(#b0)" fill="none" stroke="#fff">
<path d="M83.5,282.6 L203.4,284.7 L326.1,287.6" stroke-width="0.6" stroke-opacity="0.24" stroke-dasharray="2.2 10.9 4.1 5.6 10.0 8.3 7.0 13.3 9.3 6.1"/>
<path d="M83.5,286.9 L203.4,289.0 L326.1,291.1" stroke-width="0.6" stroke-opacity="0.24" stroke-dasharray="5.0 12.3 7.7 11.4 6.2 4.4 8.4 11.8 4.1 11.5"/>
<path d="M83.5,290.4 L203.4,291.8 L326.1,293.2" stroke-width="0.6" stroke-opacity="0.17" stroke-dasharray="13.1 11.7 11.9 2.1 9.5 12.4 2.6 5.3 5.2 8.3"/>
<path d="M83.5,304.5 L326.1,305.2" stroke-width="0.6" stroke-opacity="0.55" stroke-dasharray="7.1 7.7 11.3 2.0 2.7 3.5 3.5 2.8 13.7 12.3"/>
<path d="M83.5,306.6 L326.1,307.0" stroke-width="0.6" stroke-opacity="0.61" stroke-dasharray="3.0 8.0 5.8 5.8 6.2 9.8 9.0 6.3 4.3 5.9"/>
<path d="M83.5,308.7 L326.1,309.1" stroke-width="0.6" stroke-opacity="0.55" stroke-dasharray="3.5 8.7 10.6 6.6 3.0 4.1 6.5 9.3 11.4 6.6"/>
<path d="M83.5,311.9 L326.1,312.2" stroke-width="0.6" stroke-opacity="0.55" stroke-dasharray="11.6 9.5 7.2 6.5 8.0 10.4 7.0 10.3 7.5 4.9"/>
</g>
<g filter="url(#b1)" fill="#fff">
<ellipse cx="84.9" cy="283.3" rx="1.2" ry="1.2" fill-opacity="1"/>
<ellipse cx="108.2" cy="287.2" rx="3.3" ry="1.5" fill-opacity="1"/>
<ellipse cx="125.1" cy="281.9" rx="1.4" ry="1.5" fill-opacity="1"/>
<ellipse cx="149.1" cy="289.0" rx="2.9" ry="1.5" fill-opacity="1"/>
<ellipse cx="157.6" cy="280.5" rx="2.4" ry="1.2" fill-opacity="0.5"/>
<ellipse cx="197.1" cy="286.9" rx="2.6" ry="1.5" fill-opacity="1"/>
<ellipse cx="196.4" cy="290.4" rx="1.9" ry="1.2" fill-opacity="0.5"/>
<ellipse cx="212.2" cy="280.9" rx="3.8" ry="1.2" fill-opacity="1"/>
<ellipse cx="229.5" cy="280.5" rx="1.2" ry="1.2" fill-opacity="1"/>
<ellipse cx="234.4" cy="282.6" rx="1.2" ry="1.5" fill-opacity="1"/>
<ellipse cx="233.4" cy="287.6" rx="3.8" ry="1.2" fill-opacity="1"/>
<ellipse cx="251.7" cy="281.9" rx="1.2" ry="1.2" fill-opacity="1"/>
<ellipse cx="259.8" cy="280.2" rx="1.7" ry="1.5" fill-opacity="1"/>
<ellipse cx="273.9" cy="283.3" rx="1.4" ry="1.7" fill-opacity="1"/>
<ellipse cx="270.4" cy="286.9" rx="2.9" ry="1.2" fill-opacity="0.45"/>
<ellipse cx="287.0" cy="287.9" rx="1.7" ry="1.7" fill-opacity="1"/>
<ellipse cx="306.7" cy="285.1" rx="1.2" ry="1.5" fill-opacity="1"/>
<ellipse cx="128.0" cy="296.7" rx="1.2" ry="1.7" fill-opacity="1"/>
<ellipse cx="165.7" cy="296.7" rx="1.2" ry="1.7" fill-opacity="1"/>
<ellipse cx="258.4" cy="317.9" rx="1.4" ry="2.0" fill-opacity="0.8"/>
<ellipse cx="86.3" cy="311.7" rx="3.2" ry="1.6" fill-opacity="1"/>
<ellipse cx="95.9" cy="312.5" rx="3.3" ry="1.4" fill-opacity="1"/>
<ellipse cx="101.2" cy="311.2" rx="3.7" ry="1.5" fill-opacity="1"/>
<ellipse cx="107.5" cy="311.7" rx="4.0" ry="1.6" fill-opacity="1"/>
<ellipse cx="113.5" cy="313.0" rx="3.0" ry="1.8" fill-opacity="1"/>
<ellipse cx="119.8" cy="311.5" rx="3.4" ry="1.9" fill-opacity="1"/>
<ellipse cx="125.1" cy="312.3" rx="3.6" ry="1.8" fill-opacity="1"/>
<ellipse cx="136.4" cy="311.3" rx="3.6" ry="1.7" fill-opacity="1"/>
<ellipse cx="145.2" cy="311.8" rx="2.2" ry="1.9" fill-opacity="1"/>
<ellipse cx="152.3" cy="312.2" rx="3.5" ry="1.9" fill-opacity="1"/>
<ellipse cx="161.8" cy="312.7" rx="3.9" ry="1.6" fill-opacity="1"/>
<ellipse cx="172.4" cy="312.9" rx="3.0" ry="1.9" fill-opacity="1"/>
<ellipse cx="174.5" cy="313.1" rx="2.3" ry="1.4" fill-opacity="1"/>
<ellipse cx="184.0" cy="311.7" rx="4.0" ry="1.6" fill-opacity="1"/>
<ellipse cx="192.8" cy="312.5" rx="2.7" ry="1.7" fill-opacity="1"/>
<ellipse cx="201.7" cy="312.0" rx="2.8" ry="1.7" fill-opacity="1"/>
<ellipse cx="211.2" cy="312.4" rx="3.9" ry="1.8" fill-opacity="1"/>
<ellipse cx="219.3" cy="313.2" rx="3.8" ry="2.0" fill-opacity="1"/>
<ellipse cx="226.3" cy="312.6" rx="2.5" ry="1.9" fill-opacity="1"/>
<ellipse cx="235.1" cy="313.2" rx="3.9" ry="1.7" fill-opacity="1"/>
<ellipse cx="245.7" cy="312.7" rx="2.5" ry="1.9" fill-opacity="1"/>
<ellipse cx="252.8" cy="312.4" rx="2.7" ry="1.4" fill-opacity="1"/>
<ellipse cx="261.6" cy="313.0" rx="4.0" ry="1.4" fill-opacity="1"/>
<ellipse cx="270.4" cy="312.9" rx="2.9" ry="1.5" fill-opacity="1"/>
<ellipse cx="279.2" cy="311.8" rx="3.6" ry="1.9" fill-opacity="1"/>
<ellipse cx="288.0" cy="311.3" rx="3.3" ry="1.4" fill-opacity="1"/>
<ellipse cx="298.6" cy="312.7" rx="2.8" ry="1.9" fill-opacity="1"/>
<ellipse cx="307.4" cy="313.3" rx="3.1" ry="2.0" fill-opacity="1"/>
<ellipse cx="317.0" cy="311.8" rx="2.3" ry="1.7" fill-opacity="1"/>
<ellipse cx="323.3" cy="311.3" rx="2.5" ry="1.6" fill-opacity="1"/>
<ellipse cx="87.5" cy="306.9" rx="1.2" ry="1.2" fill-opacity="0.7"/>
<ellipse cx="94.4" cy="312.0" rx="1.8" ry="1.2" fill-opacity="0.7"/>
<ellipse cx="103.1" cy="309.2" rx="1.6" ry="1.2" fill-opacity="0.7"/>
<ellipse cx="111.6" cy="309.8" rx="1.8" ry="1.2" fill-opacity="0.7"/>
<ellipse cx="119.2" cy="310.5" rx="1.2" ry="1.2" fill-opacity="0.7"/>
<ellipse cx="129.6" cy="309.2" rx="1.5" ry="1.2" fill-opacity="0.7"/>
<ellipse cx="135.4" cy="309.6" rx="1.2" ry="1.2" fill-opacity="0.7"/>
<ellipse cx="144.4" cy="306.3" rx="1.5" ry="1.2" fill-opacity="0.7"/>
<ellipse cx="152.7" cy="308.1" rx="1.6" ry="1.2" fill-opacity="0.7"/>
<ellipse cx="158.0" cy="306.3" rx="1.6" ry="1.2" fill-opacity="0.7"/>
<ellipse cx="167.1" cy="308.8" rx="1.5" ry="1.2" fill-opacity="0.7"/>
<ellipse cx="175.7" cy="307.9" rx="1.3" ry="1.2" fill-opacity="0.7"/>
<ellipse cx="183.5" cy="308.3" rx="1.7" ry="1.2" fill-opacity="0.7"/>
<ellipse cx="192.8" cy="310.6" rx="1.2" ry="1.2" fill-opacity="0.7"/>
<ellipse cx="201.9" cy="307.4" rx="1.2" ry="1.2" fill-opacity="0.7"/>
<ellipse cx="209.5" cy="306.5" rx="1.3" ry="1.2" fill-opacity="0.7"/>
<ellipse cx="218.2" cy="308.7" rx="1.8" ry="1.2" fill-opacity="0.7"/>
<ellipse cx="224.2" cy="310.0" rx="1.8" ry="1.2" fill-opacity="0.7"/>
<ellipse cx="231.9" cy="306.7" rx="1.5" ry="1.2" fill-opacity="0.7"/>
<ellipse cx="242.4" cy="311.2" rx="1.2" ry="1.2" fill-opacity="0.7"/>
<ellipse cx="250.6" cy="310.0" rx="1.7" ry="1.2" fill-opacity="0.7"/>
<ellipse cx="255.8" cy="307.8" rx="1.7" ry="1.2" fill-opacity="0.7"/>
<ellipse cx="264.8" cy="308.5" rx="1.4" ry="1.2" fill-opacity="0.7"/>
<ellipse cx="275.4" cy="306.9" rx="1.2" ry="1.2" fill-opacity="0.7"/>
<ellipse cx="283.3" cy="312.2" rx="1.4" ry="1.2" fill-opacity="0.7"/>
<ellipse cx="291.6" cy="307.3" rx="1.7" ry="1.2" fill-opacity="0.7"/>
<ellipse cx="298.6" cy="309.2" rx="1.2" ry="1.2" fill-opacity="0.7"/>
<ellipse cx="304.9" cy="306.3" rx="1.5" ry="1.2" fill-opacity="0.7"/>
<ellipse cx="315.4" cy="306.2" rx="1.8" ry="1.2" fill-opacity="0.7"/>
<ellipse cx="324.0" cy="311.6" rx="1.8" ry="1.2" fill-opacity="0.7"/>
<ellipse cx="213.5" cy="312.8" rx="1.3" ry="1.2" fill-opacity="0.30646376410567366"/>
<ellipse cx="296.9" cy="313.7" rx="2.0" ry="1.2" fill-opacity="0.3977292240976377"/>
<ellipse cx="147.1" cy="311.9" rx="1.5" ry="1.2" fill-opacity="0.36557240085637527"/>
<ellipse cx="298.8" cy="313.2" rx="2.6" ry="1.2" fill-opacity="0.34096098864818236"/>
<ellipse cx="108.5" cy="312.2" rx="1.2" ry="1.2" fill-opacity="0.3935760050801067"/>
<ellipse cx="94.3" cy="310.5" rx="1.4" ry="1.2" fill-opacity="0.24478840123758924"/>
<ellipse cx="89.2" cy="313.1" rx="1.4" ry="1.2" fill-opacity="0.3683836923575422"/>
<ellipse cx="286.4" cy="313.8" rx="2.4" ry="1.2" fill-opacity="0.20906731746391466"/>
<ellipse cx="269.7" cy="312.2" rx="2.7" ry="1.2" fill-opacity="0.38724123034610125"/>
<ellipse cx="310.2" cy="310.7" rx="1.9" ry="1.2" fill-opacity="0.4070148327897075"/>
<ellipse cx="142.3" cy="310.9" rx="1.7" ry="1.2" fill-opacity="0.38838582735997373"/>
<ellipse cx="179.0" cy="311.6" rx="2.0" ry="1.2" fill-opacity="0.30455441282375595"/>
<ellipse cx="103.7" cy="311.9" rx="3.3" ry="1.2" fill-opacity="0.3868522501868964"/>
<ellipse cx="122.5" cy="312.6" rx="2.8" ry="1.2" fill-opacity="0.32927301914535345"/>
<ellipse cx="200.9" cy="312.6" rx="3.1" ry="1.2" fill-opacity="0.2239651827103614"/>
<ellipse cx="265.0" cy="313.6" rx="2.3" ry="1.2" fill-opacity="0.37972766022776294"/>
<ellipse cx="128.7" cy="311.1" rx="1.6" ry="1.2" fill-opacity="0.2787118821121551"/>
<ellipse cx="139.9" cy="312.7" rx="3.2" ry="1.2" fill-opacity="0.3763333228515352"/>
<ellipse cx="183.8" cy="313.3" rx="2.4" ry="1.2" fill-opacity="0.2544012194633993"/>
<ellipse cx="89.1" cy="311.8" rx="2.0" ry="1.2" fill-opacity="0.29011758908410623"/>
<ellipse cx="161.7" cy="313.0" rx="1.5" ry="1.2" fill-opacity="0.3198974655968858"/>
<ellipse cx="228.8" cy="312.0" rx="3.0" ry="1.2" fill-opacity="0.3392803118150126"/>
<ellipse cx="200.3" cy="312.8" rx="3.0" ry="1.2" fill-opacity="0.383397110331526"/>
<ellipse cx="316.5" cy="312.1" rx="1.7" ry="1.2" fill-opacity="0.37942208941529076"/>
<ellipse cx="247.4" cy="313.8" rx="3.0" ry="1.2" fill-opacity="0.24740579198263749"/>
<ellipse cx="146.3" cy="310.9" rx="2.7" ry="1.2" fill-opacity="0.4249399999785731"/>
<ellipse cx="145.4" cy="313.3" rx="1.9" ry="1.2" fill-opacity="0.382242108134362"/>
<ellipse cx="104.4" cy="310.5" rx="3.0" ry="1.2" fill-opacity="0.2891652711711022"/>
<ellipse cx="224.3" cy="312.7" rx="1.2" ry="1.2" fill-opacity="0.30905533540933516"/>
<ellipse cx="201.4" cy="311.0" rx="2.4" ry="1.2" fill-opacity="0.29772999980566167"/>
<ellipse cx="215.6" cy="310.7" rx="1.8" ry="1.2" fill-opacity="0.22813225134912737"/>
<ellipse cx="298.8" cy="313.7" rx="1.4" ry="1.2" fill-opacity="0.29355585217183144"/>
<ellipse cx="270.9" cy="313.1" rx="1.8" ry="1.2" fill-opacity="0.3635195928518097"/>
<ellipse cx="279.1" cy="311.4" rx="2.8" ry="1.2" fill-opacity="0.36820626252525923"/>
</g>
<g filter="url(#b0)" fill="#fff">
<ellipse cx="84.9" cy="283.3" rx="0.9" ry="0.9"/>
<ellipse cx="108.2" cy="287.2" rx="2.5" ry="1.1"/>
<ellipse cx="125.1" cy="281.9" rx="1.1" ry="1.1"/>
<ellipse cx="149.1" cy="289.0" rx="2.1" ry="1.1"/>
<ellipse cx="197.1" cy="286.9" rx="1.9" ry="1.1"/>
<ellipse cx="212.2" cy="280.9" rx="2.8" ry="0.9"/>
<ellipse cx="229.5" cy="280.5" rx="0.9" ry="0.9"/>
<ellipse cx="234.4" cy="282.6" rx="0.9" ry="1.1"/>
<ellipse cx="233.4" cy="287.6" rx="2.8" ry="0.9"/>
<ellipse cx="251.7" cy="281.9" rx="0.9" ry="0.9"/>
<ellipse cx="259.8" cy="280.2" rx="1.2" ry="1.1"/>
<ellipse cx="273.9" cy="283.3" rx="1.1" ry="1.2"/>
<ellipse cx="287.0" cy="287.9" rx="1.2" ry="1.2"/>
<ellipse cx="306.7" cy="285.1" rx="0.9" ry="1.1"/>
<ellipse cx="128.0" cy="296.7" rx="0.9" ry="1.2"/>
<ellipse cx="165.7" cy="296.7" rx="0.9" ry="1.2"/>
<ellipse cx="258.4" cy="317.9" rx="1.1" ry="1.4"/>
<ellipse cx="86.3" cy="311.7" rx="2.4" ry="1.1"/>
<ellipse cx="95.9" cy="312.5" rx="2.5" ry="1.0"/>
<ellipse cx="101.2" cy="311.2" rx="2.8" ry="1.1"/>
<ellipse cx="107.5" cy="311.7" rx="3.0" ry="1.2"/>
<ellipse cx="113.5" cy="313.0" rx="2.3" ry="1.3"/>
<ellipse cx="119.8" cy="311.5" rx="2.5" ry="1.4"/>
<ellipse cx="125.1" cy="312.3" rx="2.6" ry="1.3"/>
<ellipse cx="136.4" cy="311.3" rx="2.7" ry="1.2"/>
<ellipse cx="145.2" cy="311.8" rx="1.6" ry="1.4"/>
<ellipse cx="152.3" cy="312.2" rx="2.6" ry="1.4"/>
<ellipse cx="161.8" cy="312.7" rx="2.9" ry="1.1"/>
<ellipse cx="172.4" cy="312.9" rx="2.2" ry="1.4"/>
<ellipse cx="174.5" cy="313.1" rx="1.7" ry="1.0"/>
<ellipse cx="184.0" cy="311.7" rx="2.9" ry="1.2"/>
<ellipse cx="192.8" cy="312.5" rx="2.0" ry="1.2"/>
<ellipse cx="201.7" cy="312.0" rx="2.1" ry="1.2"/>
<ellipse cx="211.2" cy="312.4" rx="2.9" ry="1.3"/>
<ellipse cx="219.3" cy="313.2" rx="2.8" ry="1.4"/>
<ellipse cx="226.3" cy="312.6" rx="1.8" ry="1.3"/>
<ellipse cx="235.1" cy="313.2" rx="2.9" ry="1.2"/>
<ellipse cx="245.7" cy="312.7" rx="1.9" ry="1.3"/>
<ellipse cx="252.8" cy="312.4" rx="2.0" ry="1.0"/>
<ellipse cx="261.6" cy="313.0" rx="3.0" ry="1.0"/>
<ellipse cx="270.4" cy="312.9" rx="2.2" ry="1.0"/>
<ellipse cx="279.2" cy="311.8" rx="2.7" ry="1.4"/>
<ellipse cx="288.0" cy="311.3" rx="2.5" ry="1.0"/>
<ellipse cx="298.6" cy="312.7" rx="2.1" ry="1.4"/>
<ellipse cx="307.4" cy="313.3" rx="2.3" ry="1.4"/>
<ellipse cx="317.0" cy="311.8" rx="1.7" ry="1.2"/>
<ellipse cx="323.3" cy="311.3" rx="1.9" ry="1.1"/>
</g></g>
<rect x="83.5" y="336.0" width="242.5" height="44.2" fill="#060606"/>
<g clip-path="url(#cs1)">
<g filter="url(#b3)" fill="none" stroke="#fff">
<path d="M83.5,344.1 L150.5,346.6 L203.4,349.7 L256.3,349.7 L326.1,353.3" stroke-width="5" stroke-opacity="0.1"/>
<path d="M83.5,346.9 L150.5,349.0 L203.4,352.6 L256.3,353.3 L326.1,356.1" stroke-width="3" stroke-opacity="0.05"/>
<path d="M83.5,363.9 L203.4,367.4 L326.1,369.5" stroke-width="3" stroke-opacity="0.05"/>
<path d="M83.5,366.0 L203.4,369.5 L326.1,371.6" stroke-width="5" stroke-opacity="0.1"/>
<path d="M83.5,368.8 L203.4,372.0 L326.1,373.7" stroke-width="3" stroke-opacity="0.05"/>
</g>
<g filter="url(#b2)" fill="none" stroke="#fff">
<path d="M83.5,344.1 L150.5,346.6 L203.4,349.7 L256.3,349.7 L326.1,353.3" stroke-width="1.2" stroke-opacity="0.32000000000000006"/>
<path d="M83.5,346.9 L150.5,349.0 L203.4,352.6 L256.3,353.3 L326.1,356.1" stroke-width="0.6" stroke-opacity="0.24"/>
<path d="M83.5,363.9 L203.4,367.4 L326.1,369.5" stroke-width="0.7" stroke-opacity="0.32000000000000006"/>
<path d="M83.5,366.0 L203.4,369.5 L326.1,371.6" stroke-width="1.5" stroke-opacity="0.4"/>
<path d="M83.5,368.8 L203.4,372.0 L326.1,373.7" stroke-width="0.6" stroke-opacity="0.24"/>
<path d="M100.5,354.0 L100.5,361.0" stroke-width="0.7" stroke-opacity="0.3"/>
<path d="M219.3,353.3 L219.3,365.3" stroke-width="0.7" stroke-opacity="0.3"/>
<path d="M286.3,357.5 L283.8,366.7" stroke-width="0.7" stroke-opacity="0.3"/>
<path d="M235.1,353.3 L231.6,365.3" stroke-width="0.7" stroke-opacity="0.3"/>
</g>
<g filter="url(#b0)" fill="none" stroke="#fff">
<path d="M83.5,344.1 L150.5,346.6 L203.4,349.7 L256.3,349.7 L326.1,353.3" stroke-width="0.6" stroke-opacity="0.44" stroke-dasharray="6.5 8.4 9.2 4.7 2.0 4.5 11.4 3.7 7.5 4.3"/>
<path d="M83.5,346.9 L150.5,349.0 L203.4,352.6 L256.3,353.3 L326.1,356.1" stroke-width="0.6" stroke-opacity="0.33" stroke-dasharray="4.5 4.0 6.8 4.0 2.3 3.3 4.0 7.9 2.7 2.3"/>
<path d="M83.5,363.9 L203.4,367.4 L326.1,369.5" stroke-width="0.6" stroke-opacity="0.44" stroke-dasharray="7.4 6.9 10.4 2.6 6.8 6.8 2.3 13.6 4.6 3.1"/>
<path d="M83.5,366.0 L203.4,369.5 L326.1,371.6" stroke-width="0.6" stroke-opacity="0.55" stroke-dasharray="7.7 4.0 9.5 6.2 3.5 2.6 10.7 5.3 11.5 7.6"/>
<path d="M83.5,368.8 L203.4,372.0 L326.1,373.7" stroke-width="0.6" stroke-opacity="0.33" stroke-dasharray="13.2 5.6 5.0 5.2 11.8 9.5 6.1 3.1 10.2 13.6"/>
</g>
<g filter="url(#b1)" fill="#fff">
<ellipse cx="90.6" cy="344.8" rx="2.9" ry="1.2" fill-opacity="1"/>
<ellipse cx="101.2" cy="345.5" rx="2.4" ry="1.2" fill-opacity="1"/>
<ellipse cx="113.5" cy="344.8" rx="4.8" ry="1.5" fill-opacity="1"/>
<ellipse cx="134.7" cy="346.2" rx="1.4" ry="1.2" fill-opacity="1"/>
<ellipse cx="148.8" cy="346.9" rx="4.8" ry="1.2" fill-opacity="1"/>
<ellipse cx="178.7" cy="346.6" rx="3.8" ry="1.2" fill-opacity="1"/>
<ellipse cx="197.4" cy="348.3" rx="1.4" ry="1.5" fill-opacity="1"/>
<ellipse cx="199.9" cy="354.0" rx="3.8" ry="1.5" fill-opacity="1"/>
<ellipse cx="219.3" cy="351.9" rx="1.4" ry="1.7" fill-opacity="1"/>
<ellipse cx="235.1" cy="351.9" rx="1.7" ry="1.5" fill-opacity="1"/>
<ellipse cx="241.5" cy="348.3" rx="3.8" ry="1.2" fill-opacity="1"/>
<ellipse cx="245.7" cy="353.3" rx="3.8" ry="1.5" fill-opacity="1"/>
<ellipse cx="253.5" cy="349.4" rx="1.4" ry="1.2" fill-opacity="1"/>
<ellipse cx="272.2" cy="350.5" rx="1.7" ry="1.2" fill-opacity="1"/>
<ellipse cx="288.0" cy="356.4" rx="1.4" ry="1.7" fill-opacity="1"/>
<ellipse cx="302.1" cy="351.2" rx="3.3" ry="1.2" fill-opacity="1"/>
<ellipse cx="325.1" cy="354.0" rx="1.4" ry="1.7" fill-opacity="1"/>
<ellipse cx="100.5" cy="352.9" rx="1.2" ry="2.0" fill-opacity="1"/>
<ellipse cx="86.3" cy="366.0" rx="3.0" ry="1.2" fill-opacity="1"/>
<ellipse cx="95.9" cy="365.3" rx="3.0" ry="1.3" fill-opacity="1"/>
<ellipse cx="106.4" cy="366.3" rx="3.3" ry="1.4" fill-opacity="1"/>
<ellipse cx="115.3" cy="367.0" rx="3.1" ry="1.2" fill-opacity="1"/>
<ellipse cx="121.6" cy="366.3" rx="3.2" ry="1.4" fill-opacity="1"/>
<ellipse cx="132.9" cy="367.4" rx="2.4" ry="1.6" fill-opacity="1"/>
<ellipse cx="145.2" cy="368.8" rx="3.2" ry="1.2" fill-opacity="1"/>
<ellipse cx="155.8" cy="369.5" rx="3.7" ry="1.2" fill-opacity="1"/>
<ellipse cx="161.8" cy="368.8" rx="2.7" ry="1.5" fill-opacity="1"/>
<ellipse cx="172.4" cy="369.8" rx="3.1" ry="1.4" fill-opacity="1"/>
<ellipse cx="182.3" cy="369.5" rx="3.2" ry="1.3" fill-opacity="1"/>
<ellipse cx="198.1" cy="370.6" rx="2.7" ry="1.2" fill-opacity="1"/>
<ellipse cx="208.7" cy="369.8" rx="2.3" ry="1.5" fill-opacity="1"/>
<ellipse cx="224.6" cy="370.9" rx="3.4" ry="1.4" fill-opacity="1"/>
<ellipse cx="235.1" cy="372.3" rx="3.4" ry="1.3" fill-opacity="1"/>
<ellipse cx="251.0" cy="371.6" rx="2.6" ry="1.3" fill-opacity="1"/>
<ellipse cx="261.6" cy="371.3" rx="3.6" ry="1.2" fill-opacity="1"/>
<ellipse cx="272.2" cy="371.6" rx="3.0" ry="1.2" fill-opacity="1"/>
<ellipse cx="282.8" cy="371.3" rx="3.4" ry="1.3" fill-opacity="1"/>
<ellipse cx="295.1" cy="370.9" rx="2.7" ry="1.3" fill-opacity="1"/>
<ellipse cx="302.1" cy="371.6" rx="3.0" ry="1.5" fill-opacity="1"/>
<ellipse cx="312.7" cy="369.8" rx="2.7" ry="1.5" fill-opacity="1"/>
<ellipse cx="323.3" cy="370.9" rx="2.3" ry="1.2" fill-opacity="1"/>
<ellipse cx="84.8" cy="364.7" rx="1.7" ry="1.2" fill-opacity="0.7"/>
<ellipse cx="95.9" cy="365.2" rx="1.3" ry="1.2" fill-opacity="0.7"/>
<ellipse cx="110.0" cy="367.2" rx="1.5" ry="1.2" fill-opacity="0.7"/>
<ellipse cx="118.2" cy="365.7" rx="1.5" ry="1.2" fill-opacity="0.7"/>
<ellipse cx="127.7" cy="366.1" rx="1.7" ry="1.2" fill-opacity="0.7"/>
<ellipse cx="141.7" cy="368.4" rx="1.9" ry="1.2" fill-opacity="0.7"/>
<ellipse cx="150.8" cy="367.7" rx="1.6" ry="1.2" fill-opacity="0.7"/>
<ellipse cx="162.2" cy="367.0" rx="1.8" ry="1.2" fill-opacity="0.7"/>
<ellipse cx="172.3" cy="368.6" rx="1.2" ry="1.2" fill-opacity="0.7"/>
<ellipse cx="183.2" cy="368.1" rx="1.5" ry="1.2" fill-opacity="0.7"/>
<ellipse cx="191.1" cy="368.5" rx="1.2" ry="1.2" fill-opacity="0.7"/>
<ellipse cx="204.2" cy="368.4" rx="1.5" ry="1.2" fill-opacity="0.7"/>
<ellipse cx="216.2" cy="367.7" rx="1.7" ry="1.2" fill-opacity="0.7"/>
<ellipse cx="222.0" cy="368.6" rx="1.2" ry="1.2" fill-opacity="0.7"/>
<ellipse cx="235.4" cy="370.7" rx="1.3" ry="1.2" fill-opacity="0.7"/>
<ellipse cx="246.8" cy="368.4" rx="1.8" ry="1.2" fill-opacity="0.7"/>
<ellipse cx="258.7" cy="370.5" rx="1.7" ry="1.2" fill-opacity="0.7"/>
<ellipse cx="268.6" cy="371.4" rx="1.8" ry="1.2" fill-opacity="0.7"/>
<ellipse cx="278.9" cy="370.3" rx="1.2" ry="1.2" fill-opacity="0.7"/>
<ellipse cx="285.7" cy="369.6" rx="1.2" ry="1.2" fill-opacity="0.7"/>
<ellipse cx="299.7" cy="370.9" rx="1.4" ry="1.2" fill-opacity="0.7"/>
<ellipse cx="308.1" cy="370.9" rx="1.7" ry="1.2" fill-opacity="0.7"/>
<ellipse cx="318.0" cy="372.5" rx="1.6" ry="1.2" fill-opacity="0.7"/>
<ellipse cx="227.2" cy="348.0" rx="1.3" ry="1.2" fill-opacity="0.2425834870022407"/>
<ellipse cx="92.4" cy="342.9" rx="2.6" ry="1.2" fill-opacity="0.250172129459427"/>
<ellipse cx="319.8" cy="352.9" rx="2.9" ry="1.2" fill-opacity="0.4350224604059505"/>
<ellipse cx="91.8" cy="343.7" rx="2.5" ry="1.2" fill-opacity="0.22194486734888125"/>
<ellipse cx="154.7" cy="348.1" rx="1.4" ry="1.2" fill-opacity="0.2835455088625038"/>
<ellipse cx="248.5" cy="351.3" rx="1.6" ry="1.2" fill-opacity="0.38348777738560724"/>
<ellipse cx="286.3" cy="351.4" rx="3.2" ry="1.2" fill-opacity="0.3036807008803793"/>
<ellipse cx="139.2" cy="347.1" rx="2.2" ry="1.2" fill-opacity="0.24243578669996982"/>
<ellipse cx="258.3" cy="350.2" rx="2.7" ry="1.2" fill-opacity="0.32177848078819654"/>
<ellipse cx="120.9" cy="346.2" rx="1.2" ry="1.2" fill-opacity="0.38961286114875077"/>
<ellipse cx="247.8" cy="348.3" rx="1.7" ry="1.2" fill-opacity="0.3605949570544853"/>
<ellipse cx="296.7" cy="353.1" rx="2.2" ry="1.2" fill-opacity="0.3832144458714706"/>
<ellipse cx="164.5" cy="347.0" rx="1.3" ry="1.2" fill-opacity="0.4389227578709029"/>
<ellipse cx="109.0" cy="345.3" rx="1.4" ry="1.2" fill-opacity="0.3622847341194728"/>
<ellipse cx="141.9" cy="344.7" rx="1.5" ry="1.2" fill-opacity="0.3463893279159772"/>
<ellipse cx="86.4" cy="343.3" rx="3.3" ry="1.2" fill-opacity="0.34061260691949463"/>
<ellipse cx="185.3" cy="349.7" rx="2.5" ry="1.2" fill-opacity="0.3338049765344191"/>
<ellipse cx="129.2" cy="344.6" rx="1.4" ry="1.2" fill-opacity="0.22813303209496763"/>
<ellipse cx="89.3" cy="346.0" rx="1.6" ry="1.2" fill-opacity="0.22144308967339105"/>
<ellipse cx="196.4" cy="348.3" rx="3.0" ry="1.2" fill-opacity="0.3604513628139786"/>
<ellipse cx="268.2" cy="351.7" rx="1.9" ry="1.2" fill-opacity="0.3113991379324539"/>
<ellipse cx="110.4" cy="346.3" rx="2.5" ry="1.2" fill-opacity="0.25149687848411006"/>
<ellipse cx="214.3" cy="349.6" rx="2.7" ry="1.2" fill-opacity="0.2865373186617254"/>
<ellipse cx="201.1" cy="348.1" rx="2.4" ry="1.2" fill-opacity="0.30571291071196766"/>
<ellipse cx="240.8" cy="350.1" rx="1.6" ry="1.2" fill-opacity="0.44893597525077833"/>
<ellipse cx="164.8" cy="347.2" rx="1.4" ry="1.2" fill-opacity="0.24132076119917664"/>
<ellipse cx="309.4" cy="353.2" rx="3.1" ry="1.2" fill-opacity="0.3530358017674897"/>
<ellipse cx="309.5" cy="352.6" rx="2.1" ry="1.2" fill-opacity="0.42577302832858854"/>
<ellipse cx="313.9" cy="352.6" rx="2.8" ry="1.2" fill-opacity="0.4493254683680309"/>
<ellipse cx="306.8" cy="351.6" rx="3.2" ry="1.2" fill-opacity="0.2239668265511662"/>
<ellipse cx="258.8" cy="349.1" rx="2.3" ry="1.2" fill-opacity="0.21014048456179918"/>
<ellipse cx="264.3" cy="349.4" rx="2.1" ry="1.2" fill-opacity="0.3855222642360959"/>
<ellipse cx="264.7" cy="349.4" rx="1.4" ry="1.2" fill-opacity="0.3027701300454271"/>
<ellipse cx="102.3" cy="343.6" rx="2.8" ry="1.2" fill-opacity="0.4441008228343093"/>
<ellipse cx="321.2" cy="372.8" rx="2.0" ry="1.2" fill-opacity="0.2779849811271036"/>
<ellipse cx="195.9" cy="369.4" rx="2.4" ry="1.2" fill-opacity="0.41317348869219933"/>
<ellipse cx="152.7" cy="367.9" rx="3.1" ry="1.2" fill-opacity="0.27434965623079066"/>
<ellipse cx="142.4" cy="368.8" rx="1.2" ry="1.2" fill-opacity="0.33271580291746783"/>
<ellipse cx="213.5" cy="368.5" rx="1.3" ry="1.2" fill-opacity="0.3924993317446521"/>
<ellipse cx="196.5" cy="371.0" rx="2.9" ry="1.2" fill-opacity="0.20878091061521437"/>
<ellipse cx="128.4" cy="365.6" rx="2.1" ry="1.2" fill-opacity="0.2128156665777541"/>
<ellipse cx="216.0" cy="368.3" rx="1.9" ry="1.2" fill-opacity="0.40053175184616663"/>
<ellipse cx="185.0" cy="368.1" rx="1.3" ry="1.2" fill-opacity="0.35687104313815005"/>
<ellipse cx="247.3" cy="371.7" rx="2.9" ry="1.2" fill-opacity="0.23391635742719913"/>
<ellipse cx="267.5" cy="371.6" rx="2.3" ry="1.2" fill-opacity="0.33796442958288514"/>
<ellipse cx="151.4" cy="366.8" rx="1.2" ry="1.2" fill-opacity="0.42424358467813816"/>
<ellipse cx="303.4" cy="371.1" rx="2.6" ry="1.2" fill-opacity="0.4035023606893813"/>
<ellipse cx="229.7" cy="369.6" rx="2.3" ry="1.2" fill-opacity="0.2457373449089618"/>
<ellipse cx="249.4" cy="372.0" rx="2.4" ry="1.2" fill-opacity="0.2879753147142222"/>
<ellipse cx="193.9" cy="370.3" rx="2.2" ry="1.2" fill-opacity="0.23882622453797964"/>
<ellipse cx="159.9" cy="368.3" rx="2.1" ry="1.2" fill-opacity="0.4069002342576604"/>
<ellipse cx="309.5" cy="371.7" rx="1.3" ry="1.2" fill-opacity="0.3374370122627409"/>
<ellipse cx="201.8" cy="368.7" rx="2.7" ry="1.2" fill-opacity="0.2256143686085688"/>
<ellipse cx="245.7" cy="369.8" rx="2.3" ry="1.2" fill-opacity="0.44008012903217597"/>
<ellipse cx="239.6" cy="369.0" rx="3.2" ry="1.2" fill-opacity="0.2958258061511916"/>
<ellipse cx="284.4" cy="370.2" rx="1.8" ry="1.2" fill-opacity="0.43595095112312754"/>
<ellipse cx="160.5" cy="367.9" rx="1.8" ry="1.2" fill-opacity="0.26255598443252626"/>
<ellipse cx="321.3" cy="370.0" rx="1.7" ry="1.2" fill-opacity="0.21988300438633204"/>
<ellipse cx="211.2" cy="370.5" rx="3.0" ry="1.2" fill-opacity="0.4044522126775153"/>
<ellipse cx="84.8" cy="365.2" rx="3.2" ry="1.2" fill-opacity="0.2669057313054405"/>
<ellipse cx="200.7" cy="368.6" rx="2.4" ry="1.2" fill-opacity="0.2589859531942491"/>
<ellipse cx="315.8" cy="370.2" rx="3.1" ry="1.2" fill-opacity="0.44820413713778323"/>
<ellipse cx="247.2" cy="370.8" rx="1.5" ry="1.2" fill-opacity="0.3898667824018849"/>
<ellipse cx="126.3" cy="366.1" rx="3.0" ry="1.2" fill-opacity="0.21219997280098887"/>
<ellipse cx="316.6" cy="371.6" rx="2.0" ry="1.2" fill-opacity="0.29746628288511073"/>
<ellipse cx="323.1" cy="370.8" rx="1.5" ry="1.2" fill-opacity="0.23172682855946403"/>
<ellipse cx="169.0" cy="369.9" rx="1.4" ry="1.2" fill-opacity="0.4348270441794657"/>
<ellipse cx="325.4" cy="373.3" rx="1.7" ry="1.2" fill-opacity="0.4377094028424538"/>
</g>
<g filter="url(#b0)" fill="#fff">
<ellipse cx="90.6" cy="344.8" rx="2.1" ry="0.9"/>
<ellipse cx="101.2" cy="345.5" rx="1.8" ry="0.9"/>
<ellipse cx="113.5" cy="344.8" rx="3.5" ry="1.1"/>
<ellipse cx="134.7" cy="346.2" rx="1.1" ry="0.9"/>
<ellipse cx="148.8" cy="346.9" rx="3.5" ry="0.9"/>
<ellipse cx="178.7" cy="346.6" rx="2.8" ry="0.9"/>
<ellipse cx="197.4" cy="348.3" rx="1.1" ry="1.1"/>
<ellipse cx="199.9" cy="354.0" rx="2.8" ry="1.1"/>
<ellipse cx="219.3" cy="351.9" rx="1.1" ry="1.2"/>
<ellipse cx="235.1" cy="351.9" rx="1.2" ry="1.1"/>
<ellipse cx="241.5" cy="348.3" rx="2.8" ry="0.9"/>
<ellipse cx="245.7" cy="353.3" rx="2.8" ry="1.1"/>
<ellipse cx="253.5" cy="349.4" rx="1.1" ry="0.9"/>
<ellipse cx="272.2" cy="350.5" rx="1.2" ry="0.9"/>
<ellipse cx="288.0" cy="356.4" rx="1.1" ry="1.2"/>
<ellipse cx="302.1" cy="351.2" rx="2.5" ry="0.9"/>
<ellipse cx="325.1" cy="354.0" rx="1.1" ry="1.2"/>
<ellipse cx="100.5" cy="352.9" rx="0.9" ry="1.4"/>
<ellipse cx="86.3" cy="366.0" rx="2.2" ry="0.9"/>
<ellipse cx="95.9" cy="365.3" rx="2.2" ry="0.9"/>
<ellipse cx="106.4" cy="366.3" rx="2.5" ry="1.0"/>
<ellipse cx="115.3" cy="367.0" rx="2.3" ry="0.9"/>
<ellipse cx="121.6" cy="366.3" rx="2.4" ry="1.0"/>
<ellipse cx="132.9" cy="367.4" rx="1.8" ry="1.1"/>
<ellipse cx="145.2" cy="368.8" rx="2.4" ry="0.9"/>
<ellipse cx="155.8" cy="369.5" rx="2.7" ry="0.9"/>
<ellipse cx="161.8" cy="368.8" rx="2.0" ry="1.0"/>
<ellipse cx="172.4" cy="369.8" rx="2.3" ry="1.0"/>
<ellipse cx="182.3" cy="369.5" rx="2.4" ry="1.0"/>
<ellipse cx="198.1" cy="370.6" rx="2.0" ry="0.9"/>
<ellipse cx="208.7" cy="369.8" rx="1.7" ry="1.0"/>
<ellipse cx="224.6" cy="370.9" rx="2.5" ry="1.0"/>
<ellipse cx="235.1" cy="372.3" rx="2.5" ry="0.9"/>
<ellipse cx="251.0" cy="371.6" rx="1.9" ry="0.9"/>
<ellipse cx="261.6" cy="371.3" rx="2.7" ry="0.9"/>
<ellipse cx="272.2" cy="371.6" rx="2.2" ry="0.9"/>
<ellipse cx="282.8" cy="371.3" rx="2.5" ry="0.9"/>
<ellipse cx="295.1" cy="370.9" rx="2.0" ry="0.9"/>
<ellipse cx="302.1" cy="371.6" rx="2.3" ry="1.1"/>
<ellipse cx="312.7" cy="369.8" rx="2.0" ry="1.1"/>
<ellipse cx="323.3" cy="370.9" rx="1.7" ry="0.9"/>
</g></g>
<rect x="83.5" y="392.0" width="242.5" height="44.4" fill="#060606"/>
<g clip-path="url(#cs2)">
<g filter="url(#b3)" fill="none" stroke="#fff">
<path d="M83.5,401.1 L168.2,402.9 L238.7,405.3 L326.1,412.4" stroke-width="5" stroke-opacity="0.085"/>
<path d="M83.5,404.6 L168.2,407.5 L238.7,411.0 L326.1,415.9" stroke-width="3" stroke-opacity="0.0425"/>
<path d="M83.5,397.6 L168.2,398.3 L238.7,401.1 L326.1,408.2" stroke-width="3" stroke-opacity="0.0425"/>
<path d="M83.5,422.3 L168.2,423.3 L238.7,427.9 L326.1,430.7" stroke-width="5" stroke-opacity="0.085"/>
<path d="M83.5,419.4 L168.2,420.9 L238.7,425.1 L326.1,428.6" stroke-width="3" stroke-opacity="0.0425"/>
<path d="M132.9,415.2 L221.0,419.4 L326.1,420.9" stroke-width="3" stroke-opacity="0.0425"/>
</g>
<g filter="url(#b2)" fill="none" stroke="#fff">
<path d="M83.5,401.1 L168.2,402.9 L238.7,405.3 L326.1,412.4" stroke-width="1.0" stroke-opacity="0.272"/>
<path d="M83.5,404.6 L168.2,407.5 L238.7,411.0 L326.1,415.9" stroke-width="0.6" stroke-opacity="0.17"/>
<path d="M83.5,397.6 L168.2,398.3 L238.7,401.1 L326.1,408.2" stroke-width="0.5" stroke-opacity="0.136"/>
<path d="M83.5,422.3 L168.2,423.3 L238.7,427.9 L326.1,430.7" stroke-width="1.5" stroke-opacity="0.408"/>
<path d="M83.5,419.4 L168.2,420.9 L238.7,425.1 L326.1,428.6" stroke-width="0.6" stroke-opacity="0.204"/>
<path d="M132.9,415.2 L221.0,419.4 L326.1,420.9" stroke-width="0.5" stroke-opacity="0.17"/>
<path d="M120.6,413.8 L118.1,418.7" stroke-width="0.7" stroke-opacity="0.3"/>
<path d="M152.3,394.8 L155.8,398.3" stroke-width="0.7" stroke-opacity="0.3"/>
<path d="M135.7,430.0 L136.4,437.1" stroke-width="0.7" stroke-opacity="0.3"/>
<path d="M204.1,406.0 L203.4,413.4" stroke-width="0.7" stroke-opacity="0.3"/>
<path d="M232.3,412.4 L232.3,420.5" stroke-width="0.7" stroke-opacity="0.3"/>
<path d="M290.2,413.1 L288.0,422.3" stroke-width="0.7" stroke-opacity="0.3"/>
<path d="M281.0,411.7 L284.5,420.5" stroke-width="0.7" stroke-opacity="0.3"/>
</g>
<g filter="url(#b0)" fill="none" stroke="#fff">
<path d="M83.5,401.1 L168.2,402.9 L238.7,405.3 L326.1,412.4" stroke-width="0.6" stroke-opacity="0.37" stroke-dasharray="7.8 10.4 5.8 2.3 6.1 11.0 11.4 8.8 7.6 8.5"/>
<path d="M83.5,404.6 L168.2,407.5 L238.7,411.0 L326.1,415.9" stroke-width="0.6" stroke-opacity="0.23" stroke-dasharray="7.3 8.4 12.0 4.4 9.1 13.2 12.2 4.2 13.6 12.1"/>
<path d="M83.5,397.6 L168.2,398.3 L238.7,401.1 L326.1,408.2" stroke-width="0.6" stroke-opacity="0.19" stroke-dasharray="4.0 5.2 4.4 2.6 13.7 6.9 12.5 3.4 2.2 12.4"/>
<path d="M83.5,422.3 L168.2,423.3 L238.7,427.9 L326.1,430.7" stroke-width="0.6" stroke-opacity="0.56" stroke-dasharray="11.5 13.9 10.2 8.3 11.2 3.1 8.5 7.3 3.8 9.2"/>
<path d="M83.5,419.4 L168.2,420.9 L238.7,425.1 L326.1,428.6" stroke-width="0.6" stroke-opacity="0.28" stroke-dasharray="5.9 8.1 6.5 5.8 6.3 9.2 13.8 13.2 12.3 12.0"/>
<path d="M132.9,415.2 L221.0,419.4 L326.1,420.9" stroke-width="0.6" stroke-opacity="0.23" stroke-dasharray="5.4 13.7 5.2 3.5 8.0 10.8 6.1 9.7 5.4 13.6"/>
</g>
<g filter="url(#b1)" fill="#fff">
<ellipse cx="87.8" cy="401.8" rx="2.9" ry="1.5" fill-opacity="1"/>
<ellipse cx="99.4" cy="400.4" rx="3.8" ry="1.2" fill-opacity="1"/>
<ellipse cx="117.0" cy="402.9" rx="1.4" ry="1.5" fill-opacity="1"/>
<ellipse cx="125.8" cy="400.4" rx="1.2" ry="1.2" fill-opacity="1"/>
<ellipse cx="125.1" cy="405.3" rx="1.2" ry="1.5" fill-opacity="1"/>
<ellipse cx="141.7" cy="401.1" rx="3.8" ry="1.2" fill-opacity="1"/>
<ellipse cx="152.3" cy="393.3" rx="1.4" ry="1.7" fill-opacity="1"/>
<ellipse cx="163.9" cy="402.9" rx="2.4" ry="1.5" fill-opacity="1"/>
<ellipse cx="185.8" cy="398.6" rx="1.4" ry="1.5" fill-opacity="1"/>
<ellipse cx="193.5" cy="402.2" rx="1.7" ry="1.2" fill-opacity="1"/>
<ellipse cx="204.1" cy="404.6" rx="1.2" ry="1.7" fill-opacity="1"/>
<ellipse cx="217.5" cy="403.6" rx="4.3" ry="1.5" fill-opacity="1"/>
<ellipse cx="232.3" cy="411.0" rx="1.4" ry="1.7" fill-opacity="1"/>
<ellipse cx="245.7" cy="405.3" rx="2.4" ry="1.2" fill-opacity="1"/>
<ellipse cx="252.8" cy="405.3" rx="2.9" ry="1.5" fill-opacity="1"/>
<ellipse cx="256.3" cy="402.9" rx="1.2" ry="1.2" fill-opacity="1"/>
<ellipse cx="281.0" cy="409.9" rx="1.7" ry="1.5" fill-opacity="1"/>
<ellipse cx="290.2" cy="407.1" rx="1.4" ry="1.5" fill-opacity="1"/>
<ellipse cx="290.2" cy="411.7" rx="1.2" ry="1.2" fill-opacity="1"/>
<ellipse cx="120.6" cy="412.4" rx="1.4" ry="2.2" fill-opacity="1"/>
<ellipse cx="84.2" cy="422.3" rx="1.4" ry="1.5" fill-opacity="1"/>
<ellipse cx="101.2" cy="421.6" rx="3.3" ry="1.2" fill-opacity="1"/>
<ellipse cx="115.3" cy="421.2" rx="2.4" ry="1.2" fill-opacity="1"/>
<ellipse cx="134.7" cy="423.0" rx="3.8" ry="1.5" fill-opacity="1"/>
<ellipse cx="148.8" cy="424.0" rx="4.8" ry="1.5" fill-opacity="1"/>
<ellipse cx="182.3" cy="423.3" rx="3.8" ry="1.2" fill-opacity="1"/>
<ellipse cx="211.2" cy="418.7" rx="2.9" ry="1.2" fill-opacity="1"/>
<ellipse cx="189.3" cy="426.5" rx="2.9" ry="1.2" fill-opacity="1"/>
<ellipse cx="208.7" cy="428.6" rx="3.8" ry="1.5" fill-opacity="1"/>
<ellipse cx="228.1" cy="429.3" rx="1.7" ry="1.2" fill-opacity="1"/>
<ellipse cx="234.4" cy="429.3" rx="1.4" ry="1.2" fill-opacity="1"/>
<ellipse cx="240.4" cy="429.3" rx="1.7" ry="1.2" fill-opacity="1"/>
<ellipse cx="262.7" cy="428.6" rx="4.3" ry="1.2" fill-opacity="1"/>
<ellipse cx="284.5" cy="429.3" rx="1.7" ry="1.2" fill-opacity="1"/>
<ellipse cx="308.5" cy="430.0" rx="1.4" ry="1.2" fill-opacity="1"/>
<ellipse cx="324.0" cy="430.0" rx="1.4" ry="1.5" fill-opacity="1"/>
<ellipse cx="193.4" cy="403.7" rx="2.3" ry="1.2" fill-opacity="0.3796378330649331"/>
<ellipse cx="211.7" cy="404.2" rx="2.5" ry="1.2" fill-opacity="0.26041439493631124"/>
<ellipse cx="289.1" cy="410.4" rx="1.3" ry="1.2" fill-opacity="0.2516052194303686"/>
<ellipse cx="321.6" cy="411.6" rx="1.6" ry="1.2" fill-opacity="0.35781773271036516"/>
<ellipse cx="188.1" cy="404.9" rx="2.7" ry="1.2" fill-opacity="0.23387842989761226"/>
<ellipse cx="206.1" cy="403.8" rx="2.0" ry="1.2" fill-opacity="0.3559648523639642"/>
<ellipse cx="225.3" cy="403.6" rx="1.7" ry="1.2" fill-opacity="0.3006196962486603"/>
<ellipse cx="117.4" cy="400.3" rx="1.9" ry="1.2" fill-opacity="0.1762667266915373"/>
<ellipse cx="214.2" cy="406.0" rx="2.3" ry="1.2" fill-opacity="0.3460374648737185"/>
<ellipse cx="286.7" cy="410.7" rx="2.1" ry="1.2" fill-opacity="0.19565463927213486"/>
<ellipse cx="297.0" cy="409.6" rx="2.2" ry="1.2" fill-opacity="0.2309358158331724"/>
<ellipse cx="129.6" cy="403.2" rx="2.5" ry="1.2" fill-opacity="0.1759605720016768"/>
<ellipse cx="168.7" cy="401.2" rx="3.0" ry="1.2" fill-opacity="0.2282615392636004"/>
<ellipse cx="177.8" cy="403.2" rx="2.1" ry="1.2" fill-opacity="0.3102165567562555"/>
<ellipse cx="189.3" cy="402.2" rx="3.3" ry="1.2" fill-opacity="0.18775289448856272"/>
<ellipse cx="190.7" cy="404.5" rx="3.3" ry="1.2" fill-opacity="0.17201709536038587"/>
<ellipse cx="200.0" cy="403.7" rx="3.1" ry="1.2" fill-opacity="0.24045957268690527"/>
<ellipse cx="185.1" cy="403.8" rx="3.1" ry="1.2" fill-opacity="0.25327267247125385"/>
<ellipse cx="105.0" cy="402.0" rx="1.2" ry="1.2" fill-opacity="0.2812917645899636"/>
<ellipse cx="222.8" cy="403.3" rx="1.7" ry="1.2" fill-opacity="0.3521901251198312"/>
<ellipse cx="214.3" cy="403.7" rx="3.3" ry="1.2" fill-opacity="0.28228089740984263"/>
<ellipse cx="132.6" cy="401.4" rx="3.1" ry="1.2" fill-opacity="0.28296109912872375"/>
<ellipse cx="233.9" cy="404.7" rx="2.8" ry="1.2" fill-opacity="0.35222732639696136"/>
<ellipse cx="262.6" cy="406.2" rx="1.3" ry="1.2" fill-opacity="0.23631914542091692"/>
<ellipse cx="130.6" cy="403.4" rx="1.7" ry="1.2" fill-opacity="0.369248770695706"/>
<ellipse cx="112.6" cy="403.2" rx="2.0" ry="1.2" fill-opacity="0.20962484652466504"/>
<ellipse cx="92.7" cy="401.3" rx="2.0" ry="1.2" fill-opacity="0.34701506534560805"/>
<ellipse cx="97.4" cy="401.0" rx="2.0" ry="1.2" fill-opacity="0.22327485342283868"/>
<ellipse cx="147.4" cy="403.1" rx="1.9" ry="1.2" fill-opacity="0.21683840090076906"/>
<ellipse cx="190.8" cy="403.9" rx="1.7" ry="1.2" fill-opacity="0.2157763491928214"/>
<ellipse cx="246.3" cy="406.3" rx="1.6" ry="1.2" fill-opacity="0.2537747421277301"/>
<ellipse cx="214.4" cy="404.8" rx="2.5" ry="1.2" fill-opacity="0.18189672633413215"/>
<ellipse cx="274.4" cy="409.5" rx="2.2" ry="1.2" fill-opacity="0.22705039918750844"/>
<ellipse cx="301.5" cy="411.1" rx="1.7" ry="1.2" fill-opacity="0.3795505831996291"/>
<ellipse cx="167.5" cy="425.1" rx="2.2" ry="1.2" fill-opacity="0.3223369945703116"/>
<ellipse cx="165.7" cy="424.1" rx="2.4" ry="1.2" fill-opacity="0.28221623583621147"/>
<ellipse cx="289.9" cy="429.5" rx="2.3" ry="1.2" fill-opacity="0.264914011878148"/>
<ellipse cx="203.1" cy="425.9" rx="3.0" ry="1.2" fill-opacity="0.18988108688351185"/>
<ellipse cx="268.2" cy="429.0" rx="1.8" ry="1.2" fill-opacity="0.3579779466339679"/>
<ellipse cx="214.9" cy="428.1" rx="3.0" ry="1.2" fill-opacity="0.23189743398721877"/>
<ellipse cx="86.2" cy="422.9" rx="2.8" ry="1.2" fill-opacity="0.271736724683146"/>
<ellipse cx="221.1" cy="425.9" rx="2.7" ry="1.2" fill-opacity="0.2519247308300808"/>
<ellipse cx="110.1" cy="422.8" rx="1.9" ry="1.2" fill-opacity="0.2066638724878376"/>
<ellipse cx="179.2" cy="423.0" rx="2.1" ry="1.2" fill-opacity="0.19271735605836085"/>
<ellipse cx="96.8" cy="422.4" rx="1.6" ry="1.2" fill-opacity="0.20552469136432197"/>
<ellipse cx="108.0" cy="422.7" rx="3.2" ry="1.2" fill-opacity="0.2795492937941668"/>
<ellipse cx="179.9" cy="422.6" rx="1.8" ry="1.2" fill-opacity="0.3700773460077601"/>
<ellipse cx="112.0" cy="424.2" rx="2.2" ry="1.2" fill-opacity="0.22573249983401056"/>
<ellipse cx="317.0" cy="429.3" rx="2.4" ry="1.2" fill-opacity="0.21239598227087117"/>
<ellipse cx="137.6" cy="424.6" rx="2.9" ry="1.2" fill-opacity="0.361865455994261"/>
<ellipse cx="107.4" cy="423.3" rx="2.8" ry="1.2" fill-opacity="0.267124551113474"/>
<ellipse cx="319.9" cy="429.9" rx="2.8" ry="1.2" fill-opacity="0.3117757558957724"/>
<ellipse cx="148.9" cy="423.1" rx="2.0" ry="1.2" fill-opacity="0.3282819164989891"/>
<ellipse cx="205.8" cy="426.4" rx="2.1" ry="1.2" fill-opacity="0.2247100790795577"/>
<ellipse cx="215.5" cy="426.7" rx="2.0" ry="1.2" fill-opacity="0.2061160414604173"/>
<ellipse cx="238.9" cy="426.9" rx="2.8" ry="1.2" fill-opacity="0.3725407220727275"/>
<ellipse cx="289.2" cy="430.3" rx="2.0" ry="1.2" fill-opacity="0.28828686991542674"/>
<ellipse cx="264.4" cy="430.2" rx="1.6" ry="1.2" fill-opacity="0.3783511007241043"/>
<ellipse cx="262.9" cy="428.6" rx="2.8" ry="1.2" fill-opacity="0.2856096171332218"/>
<ellipse cx="245.7" cy="428.5" rx="1.5" ry="1.2" fill-opacity="0.3027763260676125"/>
<ellipse cx="298.1" cy="428.5" rx="1.2" ry="1.2" fill-opacity="0.3368578268788311"/>
<ellipse cx="178.3" cy="423.8" rx="3.3" ry="1.2" fill-opacity="0.22595533698739503"/>
<ellipse cx="253.6" cy="426.6" rx="1.8" ry="1.2" fill-opacity="0.20630139800868816"/>
<ellipse cx="91.5" cy="422.4" rx="1.9" ry="1.2" fill-opacity="0.19159261375224565"/>
<ellipse cx="278.1" cy="428.8" rx="2.9" ry="1.2" fill-opacity="0.31182603389601316"/>
<ellipse cx="162.8" cy="422.3" rx="2.2" ry="1.2" fill-opacity="0.24337754626320268"/>
<ellipse cx="139.3" cy="422.7" rx="1.4" ry="1.2" fill-opacity="0.29172847277943964"/>
<ellipse cx="215.9" cy="426.8" rx="1.8" ry="1.2" fill-opacity="0.1756305815468919"/>
</g>
<g filter="url(#b0)" fill="#fff">
<ellipse cx="87.8" cy="401.8" rx="2.1" ry="1.1"/>
<ellipse cx="99.4" cy="400.4" rx="2.8" ry="0.9"/>
<ellipse cx="117.0" cy="402.9" rx="1.1" ry="1.1"/>
<ellipse cx="125.8" cy="400.4" rx="0.9" ry="0.9"/>
<ellipse cx="125.1" cy="405.3" rx="0.9" ry="1.1"/>
<ellipse cx="141.7" cy="401.1" rx="2.8" ry="0.9"/>
<ellipse cx="152.3" cy="393.3" rx="1.1" ry="1.2"/>
<ellipse cx="163.9" cy="402.9" rx="1.8" ry="1.1"/>
<ellipse cx="185.8" cy="398.6" rx="1.1" ry="1.1"/>
<ellipse cx="193.5" cy="402.2" rx="1.2" ry="0.9"/>
<ellipse cx="204.1" cy="404.6" rx="0.9" ry="1.2"/>
<ellipse cx="217.5" cy="403.6" rx="3.2" ry="1.1"/>
<ellipse cx="232.3" cy="411.0" rx="1.1" ry="1.2"/>
<ellipse cx="245.7" cy="405.3" rx="1.8" ry="0.9"/>
<ellipse cx="252.8" cy="405.3" rx="2.1" ry="1.1"/>
<ellipse cx="256.3" cy="402.9" rx="0.9" ry="0.9"/>
<ellipse cx="281.0" cy="409.9" rx="1.2" ry="1.1"/>
<ellipse cx="290.2" cy="407.1" rx="1.1" ry="1.1"/>
<ellipse cx="290.2" cy="411.7" rx="0.9" ry="0.9"/>
<ellipse cx="120.6" cy="412.4" rx="1.1" ry="1.6"/>
<ellipse cx="84.2" cy="422.3" rx="1.1" ry="1.1"/>
<ellipse cx="101.2" cy="421.6" rx="2.5" ry="0.9"/>
<ellipse cx="115.3" cy="421.2" rx="1.8" ry="0.9"/>
<ellipse cx="134.7" cy="423.0" rx="2.8" ry="1.1"/>
<ellipse cx="148.8" cy="424.0" rx="3.5" ry="1.1"/>
<ellipse cx="182.3" cy="423.3" rx="2.8" ry="0.9"/>
<ellipse cx="211.2" cy="418.7" rx="2.1" ry="0.9"/>
<ellipse cx="189.3" cy="426.5" rx="2.1" ry="0.9"/>
<ellipse cx="208.7" cy="428.6" rx="2.8" ry="1.1"/>
<ellipse cx="228.1" cy="429.3" rx="1.2" ry="0.9"/>
<ellipse cx="234.4" cy="429.3" rx="1.1" ry="0.9"/>
<ellipse cx="240.4" cy="429.3" rx="1.2" ry="0.9"/>
<ellipse cx="262.7" cy="428.6" rx="3.2" ry="0.9"/>
<ellipse cx="284.5" cy="429.3" rx="1.2" ry="0.9"/>
<ellipse cx="308.5" cy="430.0" rx="1.1" ry="0.9"/>
<ellipse cx="324.0" cy="430.0" rx="1.1" ry="1.1"/>
</g></g>
<rect x="83.5" y="447.0" width="242.5" height="44.4" fill="#060606"/>
<g clip-path="url(#cs3)">
<g filter="url(#b3)" fill="none" stroke="#fff">
<path d="M83.5,457.5 L203.4,456.8 L326.1,458.2" stroke-width="3" stroke-opacity="0.03"/>
<path d="M83.5,460.3 L203.4,459.6 L326.1,461.0" stroke-width="3" stroke-opacity="0.03"/>
<path d="M83.5,454.0 L203.4,453.6 L326.1,454.7" stroke-width="3" stroke-opacity="0.03"/>
<path d="M83.5,475.9 L185.8,476.6 L238.7,479.4 L326.1,479.4" stroke-width="5" stroke-opacity="0.06"/>
<path d="M83.5,478.7 L185.8,478.7 L238.7,481.1 L326.1,481.5" stroke-width="3" stroke-opacity="0.03"/>
</g>
<g filter="url(#b2)" fill="none" stroke="#fff">
<path d="M83.5,457.5 L203.4,456.8 L326.1,458.2" stroke-width="0.9" stroke-opacity="0.16799999999999998"/>
<path d="M83.5,460.3 L203.4,459.6 L326.1,461.0" stroke-width="0.5" stroke-opacity="0.09600000000000002"/>
<path d="M83.5,454.0 L203.4,453.6 L326.1,454.7" stroke-width="0.5" stroke-opacity="0.08639999999999999"/>
<path d="M83.5,475.9 L185.8,476.6 L238.7,479.4 L326.1,479.4" stroke-width="1.3" stroke-opacity="0.24"/>
<path d="M83.5,478.7 L185.8,478.7 L238.7,481.1 L326.1,481.5" stroke-width="0.5" stroke-opacity="0.12"/>
<path d="M235.1,463.2 L236.9,477.3" stroke-width="0.7" stroke-opacity="0.3"/>
<path d="M101.2,459.6 L99.4,463.2" stroke-width="0.7" stroke-opacity="0.3"/>
</g>
<g filter="url(#b0)" fill="none" stroke="#fff">
<path d="M83.5,457.5 L203.4,456.8 L326.1,458.2" stroke-width="0.6" stroke-opacity="0.23" stroke-dasharray="6.1 4.4 8.8 5.2 11.1 9.2 9.9 10.8 8.3 7.1"/>
<path d="M83.5,460.3 L203.4,459.6 L326.1,461.0" stroke-width="0.6" stroke-opacity="0.13" stroke-dasharray="5.7 2.8 11.5 8.0 3.2 13.1 9.0 9.5 7.3 3.5"/>
<path d="M83.5,454.0 L203.4,453.6 L326.1,454.7" stroke-width="0.6" stroke-opacity="0.12" stroke-dasharray="14.0 4.0 6.4 14.0 3.5 8.0 7.8 5.0 13.1 7.0"/>
<path d="M83.5,475.9 L185.8,476.6 L238.7,479.4 L326.1,479.4" stroke-width="0.6" stroke-opacity="0.33" stroke-dasharray="2.1 7.7 2.1 10.5 12.4 12.9 2.6 10.1 5.7 7.7"/>
<path d="M83.5,478.7 L185.8,478.7 L238.7,481.1 L326.1,481.5" stroke-width="0.6" stroke-opacity="0.17" stroke-dasharray="5.6 5.7 3.6 9.5 3.1 13.6 2.5 13.6 4.3 3.0"/>
</g>
<g filter="url(#b1)" fill="#fff">
<ellipse cx="86.3" cy="458.9" rx="2.4" ry="1.2" fill-opacity="1"/>
<ellipse cx="101.2" cy="457.9" rx="1.4" ry="1.7" fill-opacity="1"/>
<ellipse cx="107.5" cy="457.2" rx="3.8" ry="1.5" fill-opacity="1"/>
<ellipse cx="115.3" cy="452.6" rx="1.4" ry="1.2" fill-opacity="0.6"/>
<ellipse cx="125.1" cy="453.3" rx="1.7" ry="1.2" fill-opacity="0.6"/>
<ellipse cx="161.1" cy="454.3" rx="2.4" ry="1.2" fill-opacity="0.45"/>
<ellipse cx="189.3" cy="453.6" rx="2.4" ry="1.2" fill-opacity="0.45"/>
<ellipse cx="201.7" cy="455.0" rx="2.4" ry="1.2" fill-opacity="0.7"/>
<ellipse cx="203.4" cy="458.9" rx="1.4" ry="1.2" fill-opacity="0.5"/>
<ellipse cx="231.6" cy="455.4" rx="1.9" ry="1.2" fill-opacity="0.4"/>
<ellipse cx="240.4" cy="461.4" rx="3.3" ry="1.2" fill-opacity="1"/>
<ellipse cx="239.4" cy="457.9" rx="1.2" ry="1.2" fill-opacity="1"/>
<ellipse cx="252.8" cy="454.3" rx="2.9" ry="1.2" fill-opacity="0.45"/>
<ellipse cx="272.2" cy="457.9" rx="2.4" ry="1.5" fill-opacity="1"/>
<ellipse cx="291.6" cy="454.3" rx="1.9" ry="1.2" fill-opacity="0.4"/>
<ellipse cx="302.8" cy="456.1" rx="2.4" ry="1.5" fill-opacity="1"/>
<ellipse cx="305.7" cy="451.9" rx="1.2" ry="1.2" fill-opacity="1"/>
<ellipse cx="97.6" cy="478.3" rx="2.4" ry="1.5" fill-opacity="1"/>
<ellipse cx="107.5" cy="477.3" rx="2.4" ry="1.2" fill-opacity="1"/>
<ellipse cx="117.0" cy="478.3" rx="1.9" ry="1.2" fill-opacity="1"/>
<ellipse cx="124.1" cy="475.5" rx="2.4" ry="1.2" fill-opacity="1"/>
<ellipse cx="136.4" cy="477.3" rx="2.4" ry="1.2" fill-opacity="1"/>
<ellipse cx="145.2" cy="475.5" rx="1.9" ry="1.2" fill-opacity="1"/>
<ellipse cx="152.3" cy="474.8" rx="1.9" ry="1.2" fill-opacity="1"/>
<ellipse cx="165.3" cy="477.6" rx="1.7" ry="1.5" fill-opacity="1"/>
<ellipse cx="181.2" cy="478.3" rx="1.9" ry="1.5" fill-opacity="1"/>
<ellipse cx="199.9" cy="476.6" rx="2.4" ry="1.2" fill-opacity="1"/>
<ellipse cx="204.1" cy="476.6" rx="1.4" ry="1.2" fill-opacity="1"/>
<ellipse cx="226.3" cy="479.0" rx="3.3" ry="1.5" fill-opacity="1"/>
<ellipse cx="272.2" cy="477.3" rx="1.7" ry="1.5" fill-opacity="1"/>
<ellipse cx="279.2" cy="480.1" rx="3.3" ry="1.5" fill-opacity="1"/>
<ellipse cx="288.0" cy="479.7" rx="2.4" ry="1.2" fill-opacity="1"/>
<ellipse cx="296.9" cy="479.7" rx="2.4" ry="1.2" fill-opacity="1"/>
<ellipse cx="312.7" cy="480.8" rx="1.4" ry="1.2" fill-opacity="1"/>
<ellipse cx="322.6" cy="479.0" rx="2.4" ry="1.5" fill-opacity="1"/>
<ellipse cx="264.2" cy="457.6" rx="2.8" ry="1.2" fill-opacity="0.21458115864304259"/>
<ellipse cx="103.6" cy="458.0" rx="2.3" ry="1.2" fill-opacity="0.12092895123649422"/>
<ellipse cx="100.1" cy="458.0" rx="3.2" ry="1.2" fill-opacity="0.22664062648947408"/>
<ellipse cx="219.5" cy="456.6" rx="2.2" ry="1.2" fill-opacity="0.12433256028915712"/>
<ellipse cx="157.7" cy="457.9" rx="1.7" ry="1.2" fill-opacity="0.15850851417211573"/>
<ellipse cx="170.3" cy="457.5" rx="2.8" ry="1.2" fill-opacity="0.19152127297953037"/>
<ellipse cx="132.7" cy="456.7" rx="1.3" ry="1.2" fill-opacity="0.20768152227468079"/>
<ellipse cx="231.8" cy="456.2" rx="1.6" ry="1.2" fill-opacity="0.14679633414026727"/>
<ellipse cx="205.2" cy="456.0" rx="3.1" ry="1.2" fill-opacity="0.1710251667840054"/>
<ellipse cx="188.1" cy="455.3" rx="2.8" ry="1.2" fill-opacity="0.17454509731843537"/>
<ellipse cx="259.5" cy="456.7" rx="1.7" ry="1.2" fill-opacity="0.1495025442901989"/>
<ellipse cx="230.5" cy="457.6" rx="2.7" ry="1.2" fill-opacity="0.23493992217005094"/>
<ellipse cx="199.6" cy="456.4" rx="2.3" ry="1.2" fill-opacity="0.15001315721235034"/>
<ellipse cx="179.4" cy="457.5" rx="2.7" ry="1.2" fill-opacity="0.14915761422336754"/>
<ellipse cx="299.7" cy="459.0" rx="2.7" ry="1.2" fill-opacity="0.14068215429349512"/>
<ellipse cx="271.9" cy="459.0" rx="1.5" ry="1.2" fill-opacity="0.26205082645861233"/>
<ellipse cx="154.6" cy="458.3" rx="3.1" ry="1.2" fill-opacity="0.14177903781568635"/>
<ellipse cx="135.8" cy="458.4" rx="2.1" ry="1.2" fill-opacity="0.1864366336695402"/>
<ellipse cx="308.7" cy="457.2" rx="1.2" ry="1.2" fill-opacity="0.16753736654563112"/>
<ellipse cx="177.0" cy="458.6" rx="1.8" ry="1.2" fill-opacity="0.25315764224845466"/>
<ellipse cx="142.7" cy="456.2" rx="3.2" ry="1.2" fill-opacity="0.25516935902676496"/>
<ellipse cx="164.3" cy="456.3" rx="1.7" ry="1.2" fill-opacity="0.20401962600207482"/>
<ellipse cx="180.2" cy="457.0" rx="1.8" ry="1.2" fill-opacity="0.2600804692640549"/>
<ellipse cx="266.2" cy="458.7" rx="1.3" ry="1.2" fill-opacity="0.15055559801765434"/>
<ellipse cx="121.1" cy="458.9" rx="3.1" ry="1.2" fill-opacity="0.20367482026807704"/>
<ellipse cx="111.8" cy="457.1" rx="1.3" ry="1.2" fill-opacity="0.15982598659953942"/>
<ellipse cx="153.4" cy="458.7" rx="1.6" ry="1.2" fill-opacity="0.16667207116188876"/>
<ellipse cx="244.8" cy="455.9" rx="3.1" ry="1.2" fill-opacity="0.1717573153171196"/>
<ellipse cx="242.3" cy="457.6" rx="1.7" ry="1.2" fill-opacity="0.20632091707239056"/>
<ellipse cx="89.5" cy="458.8" rx="1.9" ry="1.2" fill-opacity="0.1691835684115471"/>
<ellipse cx="111.1" cy="456.7" rx="2.4" ry="1.2" fill-opacity="0.17013232218773444"/>
<ellipse cx="154.1" cy="457.1" rx="2.9" ry="1.2" fill-opacity="0.23518601905748526"/>
<ellipse cx="200.6" cy="455.5" rx="1.6" ry="1.2" fill-opacity="0.19189363905572238"/>
<ellipse cx="176.3" cy="457.0" rx="3.0" ry="1.2" fill-opacity="0.17423861223869305"/>
<ellipse cx="172.3" cy="474.7" rx="2.4" ry="1.2" fill-opacity="0.19436810679969377"/>
<ellipse cx="193.1" cy="476.8" rx="2.7" ry="1.2" fill-opacity="0.2672078545371172"/>
<ellipse cx="111.3" cy="477.3" rx="1.6" ry="1.2" fill-opacity="0.15907794950218665"/>
<ellipse cx="102.5" cy="476.1" rx="3.0" ry="1.2" fill-opacity="0.2515468300298484"/>
<ellipse cx="321.2" cy="477.8" rx="2.0" ry="1.2" fill-opacity="0.23327523384466217"/>
<ellipse cx="193.1" cy="477.8" rx="2.9" ry="1.2" fill-opacity="0.22152787800975274"/>
<ellipse cx="295.8" cy="479.5" rx="1.4" ry="1.2" fill-opacity="0.1336594641943428"/>
<ellipse cx="104.3" cy="477.2" rx="1.8" ry="1.2" fill-opacity="0.12429287083389236"/>
<ellipse cx="134.7" cy="477.0" rx="1.3" ry="1.2" fill-opacity="0.2606243201979404"/>
<ellipse cx="135.5" cy="476.9" rx="2.8" ry="1.2" fill-opacity="0.23494858114610392"/>
<ellipse cx="252.9" cy="477.7" rx="1.6" ry="1.2" fill-opacity="0.26547903055160216"/>
<ellipse cx="136.2" cy="476.5" rx="1.5" ry="1.2" fill-opacity="0.18677157676158276"/>
<ellipse cx="210.2" cy="478.5" rx="1.5" ry="1.2" fill-opacity="0.23998417821114792"/>
<ellipse cx="292.1" cy="478.6" rx="1.7" ry="1.2" fill-opacity="0.25490698114082005"/>
<ellipse cx="189.8" cy="476.4" rx="2.3" ry="1.2" fill-opacity="0.16771274696117197"/>
<ellipse cx="165.1" cy="477.4" rx="2.9" ry="1.2" fill-opacity="0.13104867851459728"/>
<ellipse cx="308.7" cy="480.2" rx="2.5" ry="1.2" fill-opacity="0.263823093373588"/>
<ellipse cx="188.0" cy="475.7" rx="1.4" ry="1.2" fill-opacity="0.2101146330694065"/>
<ellipse cx="172.0" cy="478.0" rx="2.6" ry="1.2" fill-opacity="0.2190447049869319"/>
<ellipse cx="229.5" cy="479.3" rx="2.3" ry="1.2" fill-opacity="0.1936869343859046"/>
<ellipse cx="285.2" cy="478.3" rx="2.9" ry="1.2" fill-opacity="0.24731617021294064"/>
<ellipse cx="101.2" cy="475.9" rx="2.1" ry="1.2" fill-opacity="0.1503609015655093"/>
<ellipse cx="147.2" cy="475.0" rx="2.4" ry="1.2" fill-opacity="0.12007781981460938"/>
<ellipse cx="126.7" cy="475.1" rx="3.2" ry="1.2" fill-opacity="0.20483140146585635"/>
<ellipse cx="153.8" cy="476.9" rx="2.9" ry="1.2" fill-opacity="0.12021799801869085"/>
<ellipse cx="190.1" cy="476.7" rx="1.3" ry="1.2" fill-opacity="0.16782740971032434"/>
<ellipse cx="154.7" cy="476.8" rx="2.4" ry="1.2" fill-opacity="0.24889498805664384"/>
<ellipse cx="209.4" cy="477.3" rx="1.3" ry="1.2" fill-opacity="0.17452203811686884"/>
<ellipse cx="213.7" cy="477.5" rx="1.2" ry="1.2" fill-opacity="0.14368397972733052"/>
<ellipse cx="106.3" cy="477.2" rx="2.4" ry="1.2" fill-opacity="0.22660206769650063"/>
<ellipse cx="237.4" cy="477.8" rx="2.8" ry="1.2" fill-opacity="0.2696009602980905"/>
<ellipse cx="117.9" cy="475.3" rx="1.7" ry="1.2" fill-opacity="0.24278867142170837"/>
<ellipse cx="224.1" cy="477.4" rx="2.1" ry="1.2" fill-opacity="0.12868625394647712"/>
<ellipse cx="306.9" cy="480.6" rx="3.2" ry="1.2" fill-opacity="0.21264589445363455"/>
</g>
<g filter="url(#b0)" fill="#fff">
<ellipse cx="86.3" cy="458.9" rx="1.8" ry="0.9"/>
<ellipse cx="101.2" cy="457.9" rx="1.1" ry="1.2"/>
<ellipse cx="107.5" cy="457.2" rx="2.8" ry="1.1"/>
<ellipse cx="240.4" cy="461.4" rx="2.5" ry="0.9"/>
<ellipse cx="239.4" cy="457.9" rx="0.9" ry="0.9"/>
<ellipse cx="272.2" cy="457.9" rx="1.8" ry="1.1"/>
<ellipse cx="302.8" cy="456.1" rx="1.8" ry="1.1"/>
<ellipse cx="305.7" cy="451.9" rx="0.9" ry="0.9"/>
<ellipse cx="97.6" cy="478.3" rx="1.8" ry="1.1"/>
<ellipse cx="107.5" cy="477.3" rx="1.8" ry="0.9"/>
<ellipse cx="117.0" cy="478.3" rx="1.4" ry="0.9"/>
<ellipse cx="124.1" cy="475.5" rx="1.8" ry="0.9"/>
<ellipse cx="136.4" cy="477.3" rx="1.8" ry="0.9"/>
<ellipse cx="145.2" cy="475.5" rx="1.4" ry="0.9"/>
<ellipse cx="152.3" cy="474.8" rx="1.4" ry="0.9"/>
<ellipse cx="165.3" cy="477.6" rx="1.2" ry="1.1"/>
<ellipse cx="181.2" cy="478.3" rx="1.4" ry="1.1"/>
<ellipse cx="199.9" cy="476.6" rx="1.8" ry="0.9"/>
<ellipse cx="204.1" cy="476.6" rx="1.1" ry="0.9"/>
<ellipse cx="226.3" cy="479.0" rx="2.5" ry="1.1"/>
<ellipse cx="272.2" cy="477.3" rx="1.2" ry="1.1"/>
<ellipse cx="279.2" cy="480.1" rx="2.5" ry="1.1"/>
<ellipse cx="288.0" cy="479.7" rx="1.8" ry="0.9"/>
<ellipse cx="296.9" cy="479.7" rx="1.8" ry="0.9"/>
<ellipse cx="312.7" cy="480.8" rx="1.1" ry="0.9"/>
<ellipse cx="322.6" cy="479.0" rx="1.8" ry="1.1"/>
</g></g>
<rect x="263.7" y="485.3" width="60.3" height="2.9" fill="#fff"/>
</svg></body></html>
